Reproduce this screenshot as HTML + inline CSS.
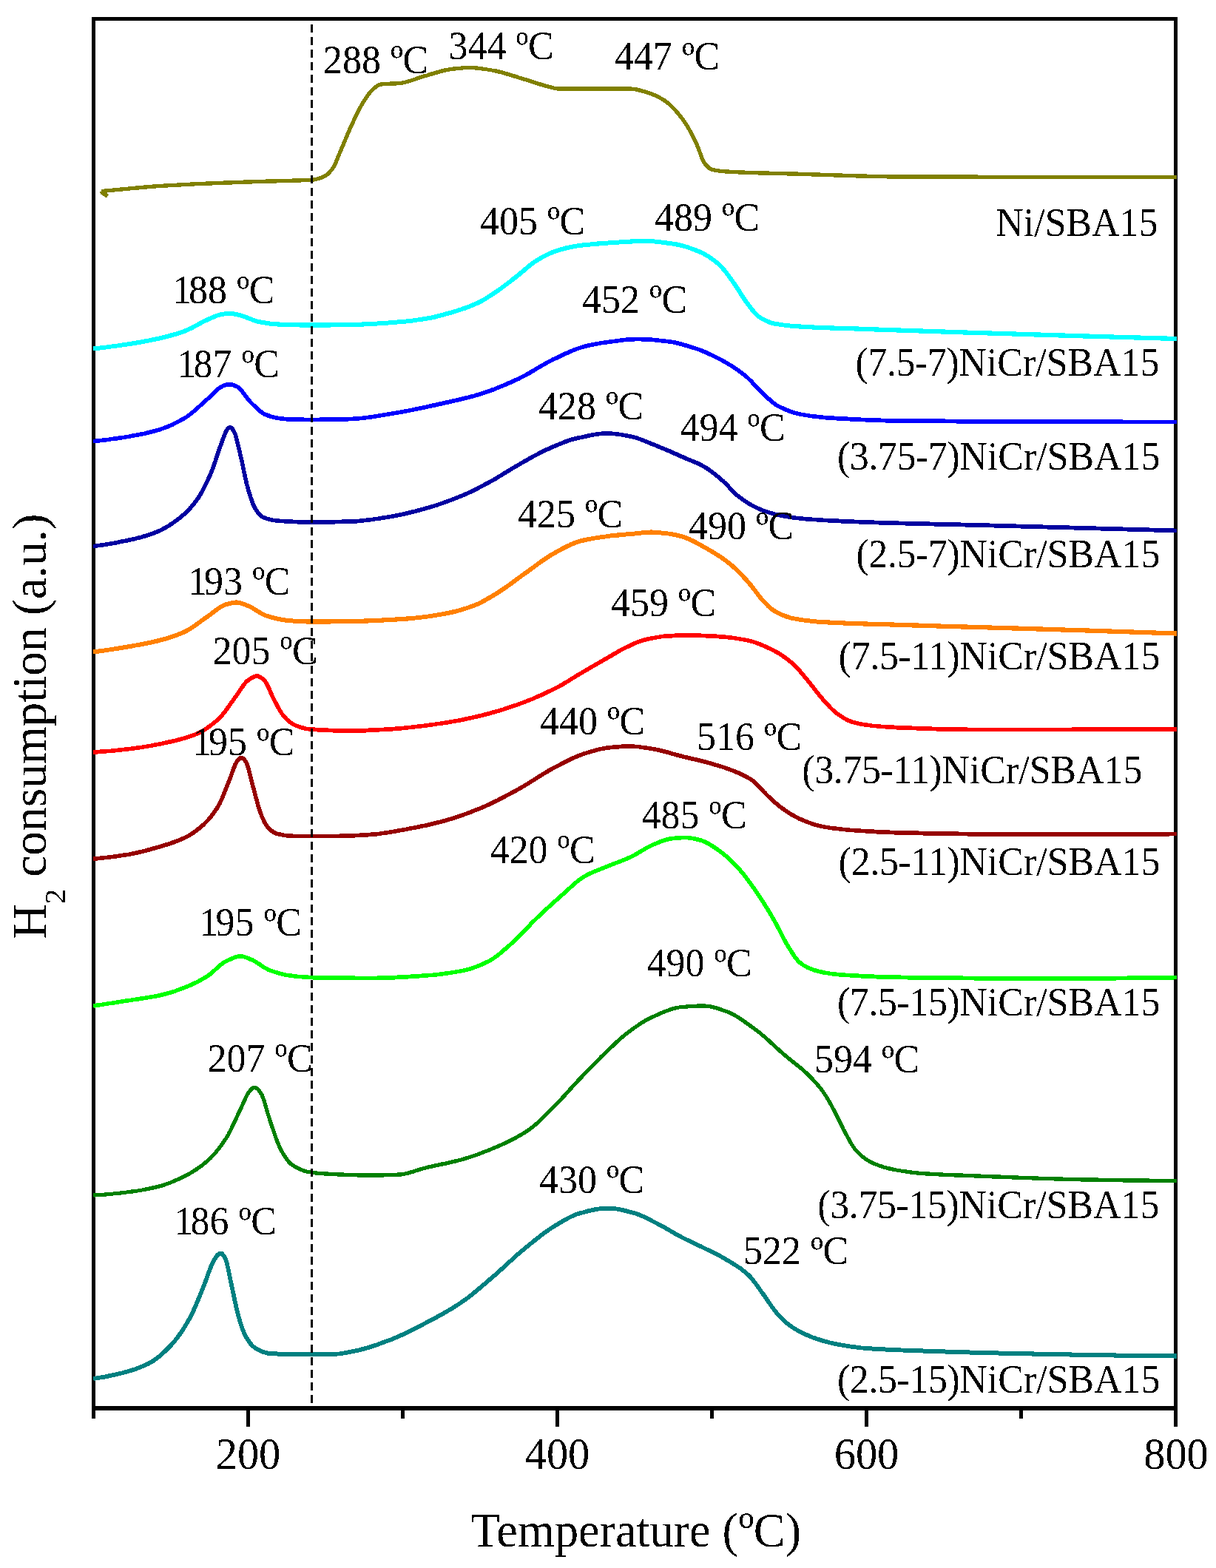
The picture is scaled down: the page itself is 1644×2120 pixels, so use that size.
<!DOCTYPE html>
<html lang="en"><head><meta charset="utf-8"><title>H2-TPR profiles</title>
<style>
html,body{margin:0;padding:0;background:#fff;}
body{width:1644px;height:2120px;overflow:hidden;}
svg{display:block;}
text{font-family:"Liberation Serif","Times New Roman",serif;fill:#000;}
.pk,.sm{font-size:54.4px;}
.tk{font-size:61.5px;text-anchor:middle;}
.ax{font-size:65.3px;text-anchor:middle;}
.ay{font-size:65.5px;text-anchor:middle;letter-spacing:-0.1px;}
.sm{text-anchor:end;}
.cv{fill:none;stroke-width:6;stroke-linejoin:round;stroke-linecap:butt;}
.bw{filter:url(#bw);}
</style></head><body>
<svg width="1644" height="2120" viewBox="0 0 1644 2120">
<defs><filter id="bw" x="-5%" y="-5%" width="110%" height="110%" color-interpolation-filters="sRGB"><feComponentTransfer><feFuncA type="discrete" tableValues="0 1"/></feComponentTransfer></filter></defs>
<rect x="0" y="0" width="1644" height="2120" fill="#fff"/>
<rect x="126.5" y="25.5" width="1463.0" height="1878.3" fill="none" stroke="#000" stroke-width="5.5" shape-rendering="crispEdges"/>
<path d="M126.5,1903.8 v14.2 M335.5,1903.8 v25.2 M544.5,1903.8 v14.2 M753.5,1903.8 v25.2 M962.5,1903.8 v14.2 M1171.5,1903.8 v25.2 M1380.5,1903.8 v14.2 M1589.5,1903.8 v25.2" stroke="#000" stroke-width="5" fill="none" shape-rendering="crispEdges"/>
<g class="bw">
<text class="tk" transform="translate(335.5,1985.5) scale(0.951,1)">200</text>
<text class="tk" transform="translate(753.5,1985.5) scale(0.951,1)">400</text>
<text class="tk" transform="translate(1171.5,1985.5) scale(0.951,1)">600</text>
<text class="tk" transform="translate(1590.0,1985.5) scale(0.951,1)">800</text>
</g>
<g class="cv bw">
<path stroke="#808000" stroke-width="5.3" d="M137.0,258.6 L140.0,258.3 L143.0,258.0 L146.0,257.7 L149.0,257.4 L152.0,257.1 L155.0,256.9 L158.0,256.6 L161.0,256.3 L164.0,256.0 L167.0,255.7 L170.0,255.5 L173.0,255.2 L176.0,254.9 L179.0,254.6 L182.0,254.3 L185.0,254.0 L188.0,253.8 L191.0,253.5 L194.0,253.2 L197.0,253.0 L200.0,252.7 L203.0,252.5 L206.0,252.2 L209.0,252.0 L212.0,251.7 L215.0,251.5 L218.0,251.3 L221.0,251.1 L224.0,251.0 L227.0,250.8 L230.0,250.6 L233.0,250.4 L236.0,250.3 L239.0,250.1 L242.0,249.9 L245.0,249.8 L248.0,249.6 L251.0,249.5 L254.0,249.3 L257.0,249.2 L260.0,249.0 L263.0,248.9 L266.0,248.7 L269.0,248.6 L272.0,248.5 L275.0,248.3 L278.0,248.2 L281.0,248.1 L284.0,248.0 L287.0,247.8 L290.0,247.7 L293.0,247.6 L296.0,247.5 L299.0,247.3 L302.0,247.2 L305.0,247.1 L308.0,247.0 L311.0,246.9 L314.0,246.8 L317.0,246.6 L320.0,246.5 L323.0,246.4 L326.0,246.3 L329.0,246.2 L332.0,246.1 L335.0,246.0 L338.0,245.9 L341.0,245.8 L344.0,245.7 L347.0,245.6 L350.0,245.5 L353.0,245.4 L356.0,245.3 L359.0,245.2 L362.0,245.1 L365.0,245.0 L368.0,245.0 L371.0,244.9 L374.0,244.8 L377.0,244.7 L380.0,244.6 L383.0,244.5 L386.0,244.4 L389.0,244.3 L392.0,244.3 L395.0,244.2 L398.0,244.1 L401.0,244.0 L404.0,243.9 L407.0,243.8 L410.0,243.7 L413.0,243.6 L416.0,243.5 L419.0,243.4 L422.0,243.2 L425.0,242.8 L428.0,242.1 L431.0,241.3 L434.0,240.4 L437.0,239.1 L440.0,237.5 L443.0,235.3 L446.0,232.4 L449.0,228.8 L452.0,224.1 L455.0,217.4 L458.0,209.8 L461.0,202.7 L464.0,195.6 L467.0,188.4 L470.0,181.3 L473.0,174.4 L476.0,167.8 L479.0,161.4 L482.0,155.0 L485.0,148.9 L488.0,143.4 L491.0,138.4 L494.0,133.7 L497.0,129.2 L500.0,125.2 L503.0,121.8 L506.0,119.2 L509.0,116.8 L512.0,115.0 L515.0,114.0 L518.0,113.7 L521.0,113.5 L524.0,113.3 L527.0,113.2 L530.0,113.1 L533.0,113.0 L536.0,112.8 L539.0,112.6 L542.0,112.3 L545.0,111.8 L548.0,111.1 L551.0,110.3 L554.0,109.4 L557.0,108.4 L560.0,107.4 L563.0,106.4 L566.0,105.3 L569.0,104.3 L572.0,103.4 L575.0,102.5 L578.0,101.7 L581.0,100.8 L584.0,99.9 L587.0,99.0 L590.0,98.1 L593.0,97.2 L596.0,96.4 L599.0,95.6 L602.0,94.9 L605.0,94.3 L608.0,93.8 L611.0,93.4 L614.0,93.0 L617.0,92.7 L620.0,92.4 L623.0,92.1 L626.0,91.8 L629.0,91.7 L632.0,91.5 L635.0,91.5 L638.0,91.6 L641.0,91.7 L644.0,92.0 L647.0,92.3 L650.0,92.7 L653.0,93.1 L656.0,93.5 L659.0,94.0 L662.0,94.5 L665.0,95.0 L668.0,95.5 L671.0,96.1 L674.0,96.8 L677.0,97.5 L680.0,98.3 L683.0,99.2 L686.0,100.1 L689.0,101.0 L692.0,101.9 L695.0,102.9 L698.0,103.8 L701.0,104.8 L704.0,105.7 L707.0,106.6 L710.0,107.5 L713.0,108.4 L716.0,109.3 L719.0,110.3 L722.0,111.2 L725.0,112.2 L728.0,113.2 L731.0,114.1 L734.0,115.0 L737.0,115.9 L740.0,116.7 L743.0,117.5 L746.0,118.2 L749.0,119.0 L752.0,119.7 L755.0,120.0 L758.0,120.0 L761.0,120.0 L764.0,120.0 L767.0,120.0 L770.0,120.0 L773.0,120.0 L776.0,120.0 L779.0,120.0 L782.0,120.0 L785.0,120.0 L788.0,120.0 L791.0,120.0 L794.0,120.0 L797.0,120.0 L800.0,120.0 L803.0,120.0 L806.0,120.0 L809.0,120.0 L812.0,120.0 L815.0,120.0 L818.0,120.0 L821.0,120.0 L824.0,120.0 L827.0,120.0 L830.0,120.0 L833.0,120.0 L836.0,120.0 L839.0,120.0 L842.0,120.0 L845.0,120.0 L848.0,120.0 L851.0,120.0 L854.0,120.1 L857.0,120.4 L860.0,120.9 L863.0,121.6 L866.0,122.3 L869.0,123.2 L872.0,124.0 L875.0,124.9 L878.0,125.9 L881.0,127.0 L884.0,128.2 L887.0,129.6 L890.0,131.1 L893.0,132.7 L896.0,134.4 L899.0,136.3 L902.0,138.5 L905.0,141.1 L908.0,143.9 L911.0,147.0 L914.0,150.3 L917.0,153.8 L920.0,157.5 L923.0,161.3 L926.0,165.6 L929.0,170.3 L932.0,175.5 L935.0,181.0 L938.0,186.8 L941.0,192.9 L944.0,199.9 L947.0,208.5 L950.0,216.4 L953.0,221.3 L956.0,224.8 L959.0,227.5 L962.0,229.0 L965.0,229.8 L968.0,230.4 L971.0,230.9 L974.0,231.3 L977.0,231.6 L980.0,231.9 L983.0,232.1 L986.0,232.2 L989.0,232.4 L992.0,232.6 L995.0,232.7 L998.0,232.9 L1001.0,233.0 L1004.0,233.1 L1007.0,233.2 L1010.0,233.3 L1013.0,233.5 L1016.0,233.6 L1019.0,233.6 L1022.0,233.7 L1025.0,233.8 L1028.0,233.9 L1031.0,234.0 L1034.0,234.1 L1037.0,234.1 L1040.0,234.2 L1043.0,234.3 L1046.0,234.3 L1049.0,234.4 L1052.0,234.5 L1055.0,234.5 L1058.0,234.6 L1061.0,234.7 L1064.0,234.8 L1067.0,234.9 L1070.0,234.9 L1073.0,235.0 L1076.0,235.1 L1079.0,235.2 L1082.0,235.3 L1085.0,235.4 L1088.0,235.5 L1091.0,235.6 L1094.0,235.7 L1097.0,235.8 L1100.0,235.9 L1103.0,236.0 L1106.0,236.1 L1109.0,236.2 L1112.0,236.3 L1115.0,236.4 L1118.0,236.5 L1121.0,236.6 L1124.0,236.7 L1127.0,236.8 L1130.0,236.9 L1133.0,237.0 L1136.0,237.1 L1139.0,237.2 L1142.0,237.3 L1145.0,237.4 L1148.0,237.5 L1151.0,237.6 L1154.0,237.7 L1157.0,237.8 L1160.0,237.9 L1163.0,238.0 L1166.0,238.1 L1169.0,238.2 L1172.0,238.2 L1175.0,238.3 L1178.0,238.4 L1181.0,238.4 L1184.0,238.5 L1187.0,238.6 L1190.0,238.6 L1193.0,238.7 L1196.0,238.7 L1199.0,238.8 L1202.0,238.8 L1205.0,238.9 L1208.0,238.9 L1211.0,238.9 L1214.0,239.0 L1217.0,239.0 L1220.0,239.0 L1223.0,239.0 L1226.0,239.0 L1229.0,239.0 L1232.0,239.0 L1235.0,239.0 L1238.0,239.0 L1241.0,239.1 L1244.0,239.1 L1247.0,239.1 L1250.0,239.1 L1253.0,239.1 L1256.0,239.1 L1259.0,239.1 L1262.0,239.1 L1265.0,239.1 L1268.0,239.1 L1271.0,239.1 L1274.0,239.1 L1277.0,239.1 L1280.0,239.2 L1283.0,239.2 L1286.0,239.2 L1289.0,239.2 L1292.0,239.2 L1295.0,239.2 L1298.0,239.2 L1301.0,239.2 L1304.0,239.2 L1307.0,239.2 L1310.0,239.2 L1313.0,239.2 L1316.0,239.2 L1319.0,239.2 L1322.0,239.2 L1325.0,239.3 L1328.0,239.3 L1331.0,239.3 L1334.0,239.3 L1337.0,239.3 L1340.0,239.3 L1343.0,239.3 L1346.0,239.3 L1349.0,239.3 L1352.0,239.3 L1355.0,239.3 L1358.0,239.3 L1361.0,239.3 L1364.0,239.3 L1367.0,239.3 L1370.0,239.3 L1373.0,239.3 L1376.0,239.3 L1379.0,239.3 L1382.0,239.4 L1385.0,239.4 L1388.0,239.4 L1391.0,239.4 L1394.0,239.4 L1397.0,239.4 L1400.0,239.4 L1403.0,239.4 L1406.0,239.4 L1409.0,239.4 L1412.0,239.4 L1415.0,239.4 L1418.0,239.4 L1421.0,239.4 L1424.0,239.4 L1427.0,239.4 L1430.0,239.4 L1433.0,239.4 L1436.0,239.4 L1439.0,239.4 L1442.0,239.4 L1445.0,239.4 L1448.0,239.4 L1451.0,239.4 L1454.0,239.4 L1457.0,239.4 L1460.0,239.4 L1463.0,239.4 L1466.0,239.4 L1469.0,239.5 L1472.0,239.5 L1475.0,239.5 L1478.0,239.5 L1481.0,239.5 L1484.0,239.5 L1487.0,239.5 L1490.0,239.5 L1493.0,239.5 L1496.0,239.5 L1499.0,239.5 L1502.0,239.5 L1505.0,239.5 L1508.0,239.5 L1511.0,239.5 L1514.0,239.5 L1517.0,239.5 L1520.0,239.5 L1523.0,239.5 L1526.0,239.5 L1529.0,239.5 L1532.0,239.5 L1535.0,239.5 L1538.0,239.5 L1541.0,239.5 L1544.0,239.5 L1547.0,239.5 L1550.0,239.5 L1553.0,239.5 L1556.0,239.5 L1559.0,239.5 L1562.0,239.5 L1565.0,239.5 L1568.0,239.5 L1571.0,239.5 L1574.0,239.5 L1577.0,239.5 L1580.0,239.5 L1583.0,239.5 L1586.0,239.5 L1589.0,239.5 L1591.0,239.5"/>
<path stroke="#00FFFF" stroke-width="6" d="M126.0,471.5 L129.0,471.2 L132.0,470.9 L135.0,470.5 L138.0,470.2 L141.0,469.8 L144.0,469.4 L147.0,469.0 L150.0,468.6 L153.0,468.2 L156.0,467.8 L159.0,467.4 L162.0,467.0 L165.0,466.5 L168.0,466.1 L171.0,465.6 L174.0,465.2 L177.0,464.7 L180.0,464.2 L183.0,463.7 L186.0,463.2 L189.0,462.7 L192.0,462.2 L195.0,461.6 L198.0,461.0 L201.0,460.5 L204.0,459.9 L207.0,459.2 L210.0,458.6 L213.0,458.0 L216.0,457.3 L219.0,456.6 L222.0,455.9 L225.0,455.1 L228.0,454.3 L231.0,453.5 L234.0,452.7 L237.0,451.8 L240.0,450.9 L243.0,449.9 L246.0,448.9 L249.0,447.9 L252.0,446.7 L255.0,445.4 L258.0,444.0 L261.0,442.4 L264.0,440.8 L267.0,439.1 L270.0,437.5 L273.0,435.9 L276.0,434.3 L279.0,432.9 L282.0,431.6 L285.0,430.3 L288.0,428.9 L291.0,427.6 L294.0,426.5 L297.0,425.6 L300.0,425.0 L303.0,424.6 L306.0,424.3 L309.0,424.1 L312.0,424.0 L315.0,424.2 L318.0,424.7 L321.0,425.4 L324.0,426.2 L327.0,427.0 L330.0,428.0 L333.0,429.1 L336.0,430.3 L339.0,431.5 L342.0,432.6 L345.0,433.7 L348.0,434.5 L351.0,435.2 L354.0,435.8 L357.0,436.3 L360.0,436.8 L363.0,437.3 L366.0,437.7 L369.0,438.1 L372.0,438.3 L375.0,438.5 L378.0,438.6 L381.0,438.7 L384.0,438.8 L387.0,438.9 L390.0,439.0 L393.0,439.1 L396.0,439.2 L399.0,439.3 L402.0,439.3 L405.0,439.4 L408.0,439.4 L411.0,439.5 L414.0,439.5 L417.0,439.5 L420.0,439.5 L423.0,439.5 L426.0,439.5 L429.0,439.5 L432.0,439.5 L435.0,439.5 L438.0,439.4 L441.0,439.4 L444.0,439.4 L447.0,439.4 L450.0,439.3 L453.0,439.3 L456.0,439.3 L459.0,439.2 L462.0,439.2 L465.0,439.1 L468.0,439.1 L471.0,439.1 L474.0,439.0 L477.0,439.0 L480.0,438.9 L483.0,438.8 L486.0,438.7 L489.0,438.6 L492.0,438.5 L495.0,438.3 L498.0,438.2 L501.0,438.0 L504.0,437.9 L507.0,437.7 L510.0,437.5 L513.0,437.3 L516.0,437.1 L519.0,436.9 L522.0,436.7 L525.0,436.5 L528.0,436.3 L531.0,436.1 L534.0,435.8 L537.0,435.6 L540.0,435.3 L543.0,435.0 L546.0,434.7 L549.0,434.4 L552.0,434.1 L555.0,433.7 L558.0,433.4 L561.0,433.0 L564.0,432.6 L567.0,432.2 L570.0,431.8 L573.0,431.3 L576.0,430.8 L579.0,430.3 L582.0,429.8 L585.0,429.1 L588.0,428.5 L591.0,427.7 L594.0,427.0 L597.0,426.2 L600.0,425.4 L603.0,424.5 L606.0,423.7 L609.0,422.8 L612.0,421.9 L615.0,421.0 L618.0,420.1 L621.0,419.1 L624.0,418.2 L627.0,417.2 L630.0,416.1 L633.0,415.0 L636.0,413.8 L639.0,412.6 L642.0,411.3 L645.0,410.0 L648.0,408.5 L651.0,407.0 L654.0,405.3 L657.0,403.5 L660.0,401.6 L663.0,399.6 L666.0,397.7 L669.0,395.7 L672.0,393.7 L675.0,391.6 L678.0,389.4 L681.0,387.2 L684.0,384.9 L687.0,382.6 L690.0,380.3 L693.0,378.0 L696.0,375.6 L699.0,373.3 L702.0,370.9 L705.0,368.4 L708.0,365.9 L711.0,363.3 L714.0,360.7 L717.0,358.3 L720.0,355.9 L723.0,353.8 L726.0,351.9 L729.0,350.1 L732.0,348.4 L735.0,346.7 L738.0,345.1 L741.0,343.7 L744.0,342.3 L747.0,341.1 L750.0,340.0 L753.0,339.0 L756.0,338.1 L759.0,337.2 L762.0,336.3 L765.0,335.5 L768.0,334.8 L771.0,334.1 L774.0,333.5 L777.0,333.0 L780.0,332.5 L783.0,332.1 L786.0,331.7 L789.0,331.3 L792.0,331.0 L795.0,330.7 L798.0,330.4 L801.0,330.1 L804.0,329.8 L807.0,329.6 L810.0,329.4 L813.0,329.1 L816.0,328.9 L819.0,328.7 L822.0,328.5 L825.0,328.3 L828.0,328.1 L831.0,327.9 L834.0,327.7 L837.0,327.5 L840.0,327.3 L843.0,327.1 L846.0,326.9 L849.0,326.7 L852.0,326.6 L855.0,326.4 L858.0,326.3 L861.0,326.2 L864.0,326.1 L867.0,326.0 L870.0,326.0 L873.0,326.0 L876.0,326.1 L879.0,326.2 L882.0,326.3 L885.0,326.6 L888.0,326.8 L891.0,327.1 L894.0,327.5 L897.0,327.8 L900.0,328.2 L903.0,328.7 L906.0,329.1 L909.0,329.5 L912.0,330.0 L915.0,330.5 L918.0,331.1 L921.0,331.8 L924.0,332.6 L927.0,333.5 L930.0,334.4 L933.0,335.5 L936.0,336.5 L939.0,337.7 L942.0,338.9 L945.0,340.1 L948.0,341.4 L951.0,342.9 L954.0,344.5 L957.0,346.3 L960.0,348.2 L963.0,350.3 L966.0,352.6 L969.0,355.0 L972.0,357.5 L975.0,360.4 L978.0,363.8 L981.0,367.5 L984.0,371.5 L987.0,375.6 L990.0,379.7 L993.0,383.9 L996.0,388.3 L999.0,393.0 L1002.0,397.8 L1005.0,402.5 L1008.0,407.0 L1011.0,411.2 L1014.0,415.0 L1017.0,418.9 L1020.0,422.5 L1023.0,425.7 L1026.0,428.3 L1029.0,430.2 L1032.0,431.9 L1035.0,433.4 L1038.0,434.8 L1041.0,435.9 L1044.0,436.8 L1047.0,437.5 L1050.0,438.0 L1053.0,438.5 L1056.0,439.0 L1059.0,439.4 L1062.0,439.8 L1065.0,440.1 L1068.0,440.4 L1071.0,440.7 L1074.0,440.9 L1077.0,441.2 L1080.0,441.4 L1083.0,441.6 L1086.0,441.7 L1089.0,441.9 L1092.0,442.1 L1095.0,442.2 L1098.0,442.4 L1101.0,442.5 L1104.0,442.7 L1107.0,442.8 L1110.0,442.9 L1113.0,443.0 L1116.0,443.2 L1119.0,443.3 L1122.0,443.4 L1125.0,443.5 L1128.0,443.6 L1131.0,443.7 L1134.0,443.8 L1137.0,443.9 L1140.0,444.0 L1143.0,444.1 L1146.0,444.2 L1149.0,444.2 L1152.0,444.3 L1155.0,444.4 L1158.0,444.5 L1161.0,444.6 L1164.0,444.7 L1167.0,444.8 L1170.0,444.9 L1173.0,445.0 L1176.0,445.1 L1179.0,445.3 L1182.0,445.4 L1185.0,445.5 L1188.0,445.6 L1191.0,445.7 L1194.0,445.8 L1197.0,445.9 L1200.0,446.0 L1203.0,446.1 L1206.0,446.2 L1209.0,446.3 L1212.0,446.4 L1215.0,446.5 L1218.0,446.6 L1221.0,446.7 L1224.0,446.8 L1227.0,446.9 L1230.0,447.0 L1233.0,447.1 L1236.0,447.2 L1239.0,447.3 L1242.0,447.4 L1245.0,447.5 L1248.0,447.6 L1251.0,447.7 L1254.0,447.8 L1257.0,447.9 L1260.0,448.0 L1263.0,448.1 L1266.0,448.2 L1269.0,448.3 L1272.0,448.4 L1275.0,448.5 L1278.0,448.6 L1281.0,448.7 L1284.0,448.8 L1287.0,448.9 L1290.0,449.0 L1293.0,449.1 L1296.0,449.2 L1299.0,449.3 L1302.0,449.4 L1305.0,449.5 L1308.0,449.6 L1311.0,449.7 L1314.0,449.7 L1317.0,449.8 L1320.0,449.9 L1323.0,450.0 L1326.0,450.1 L1329.0,450.2 L1332.0,450.3 L1335.0,450.4 L1338.0,450.5 L1341.0,450.6 L1344.0,450.7 L1347.0,450.8 L1350.0,450.9 L1353.0,451.0 L1356.0,451.1 L1359.0,451.2 L1362.0,451.3 L1365.0,451.3 L1368.0,451.4 L1371.0,451.5 L1374.0,451.6 L1377.0,451.7 L1380.0,451.8 L1383.0,451.9 L1386.0,452.0 L1389.0,452.1 L1392.0,452.2 L1395.0,452.3 L1398.0,452.4 L1401.0,452.5 L1404.0,452.6 L1407.0,452.6 L1410.0,452.7 L1413.0,452.8 L1416.0,452.9 L1419.0,453.0 L1422.0,453.1 L1425.0,453.2 L1428.0,453.3 L1431.0,453.4 L1434.0,453.5 L1437.0,453.6 L1440.0,453.6 L1443.0,453.7 L1446.0,453.8 L1449.0,453.9 L1452.0,454.0 L1455.0,454.1 L1458.0,454.2 L1461.0,454.3 L1464.0,454.4 L1467.0,454.5 L1470.0,454.5 L1473.0,454.6 L1476.0,454.7 L1479.0,454.8 L1482.0,454.9 L1485.0,455.0 L1488.0,455.1 L1491.0,455.2 L1494.0,455.2 L1497.0,455.3 L1500.0,455.4 L1503.0,455.5 L1506.0,455.6 L1509.0,455.7 L1512.0,455.8 L1515.0,455.9 L1518.0,455.9 L1521.0,456.0 L1524.0,456.1 L1527.0,456.2 L1530.0,456.3 L1533.0,456.4 L1536.0,456.5 L1539.0,456.5 L1542.0,456.6 L1545.0,456.7 L1548.0,456.8 L1551.0,456.9 L1554.0,457.0 L1557.0,457.1 L1560.0,457.1 L1563.0,457.2 L1566.0,457.3 L1569.0,457.4 L1572.0,457.5 L1575.0,457.6 L1578.0,457.6 L1581.0,457.7 L1584.0,457.8 L1587.0,457.9 L1590.0,458.0 L1591.0,458.0"/>
<path stroke="#0000FF" stroke-width="5.6" d="M126.0,596.5 L129.0,596.2 L132.0,596.0 L135.0,595.7 L138.0,595.3 L141.0,595.0 L144.0,594.6 L147.0,594.2 L150.0,593.8 L153.0,593.4 L156.0,593.0 L159.0,592.6 L162.0,592.1 L165.0,591.6 L168.0,591.2 L171.0,590.7 L174.0,590.2 L177.0,589.7 L180.0,589.1 L183.0,588.6 L186.0,588.0 L189.0,587.4 L192.0,586.8 L195.0,586.2 L198.0,585.5 L201.0,584.8 L204.0,584.1 L207.0,583.3 L210.0,582.5 L213.0,581.6 L216.0,580.7 L219.0,579.7 L222.0,578.6 L225.0,577.5 L228.0,576.3 L231.0,575.0 L234.0,573.6 L237.0,572.1 L240.0,570.6 L243.0,569.0 L246.0,567.3 L249.0,565.6 L252.0,563.8 L255.0,561.7 L258.0,559.4 L261.0,556.9 L264.0,554.4 L267.0,551.7 L270.0,549.0 L273.0,546.2 L276.0,543.5 L279.0,540.9 L282.0,538.2 L285.0,535.3 L288.0,532.2 L291.0,529.2 L294.0,526.4 L297.0,524.2 L300.0,522.5 L303.0,521.2 L306.0,520.1 L309.0,519.5 L312.0,519.7 L315.0,520.4 L318.0,521.6 L321.0,523.0 L324.0,525.4 L327.0,528.7 L330.0,532.5 L333.0,536.6 L336.0,540.6 L339.0,544.0 L342.0,546.9 L345.0,549.8 L348.0,552.6 L351.0,555.3 L354.0,557.7 L357.0,559.6 L360.0,561.0 L363.0,562.0 L366.0,563.0 L369.0,563.8 L372.0,564.6 L375.0,565.2 L378.0,565.8 L381.0,566.2 L384.0,566.4 L387.0,566.6 L390.0,566.7 L393.0,566.9 L396.0,567.0 L399.0,567.1 L402.0,567.2 L405.0,567.3 L408.0,567.4 L411.0,567.4 L414.0,567.5 L417.0,567.5 L420.0,567.5 L423.0,567.5 L426.0,567.5 L429.0,567.5 L432.0,567.4 L435.0,567.4 L438.0,567.4 L441.0,567.3 L444.0,567.3 L447.0,567.2 L450.0,567.2 L453.0,567.1 L456.0,567.0 L459.0,567.0 L462.0,566.9 L465.0,566.8 L468.0,566.7 L471.0,566.6 L474.0,566.5 L477.0,566.4 L480.0,566.3 L483.0,566.0 L486.0,565.8 L489.0,565.5 L492.0,565.1 L495.0,564.7 L498.0,564.3 L501.0,563.9 L504.0,563.4 L507.0,562.9 L510.0,562.4 L513.0,561.9 L516.0,561.5 L519.0,561.0 L522.0,560.5 L525.0,560.0 L528.0,559.5 L531.0,559.0 L534.0,558.5 L537.0,558.0 L540.0,557.5 L543.0,556.9 L546.0,556.4 L549.0,555.8 L552.0,555.2 L555.0,554.7 L558.0,554.1 L561.0,553.4 L564.0,552.8 L567.0,552.2 L570.0,551.6 L573.0,550.9 L576.0,550.3 L579.0,549.6 L582.0,549.0 L585.0,548.3 L588.0,547.7 L591.0,547.0 L594.0,546.3 L597.0,545.7 L600.0,545.0 L603.0,544.3 L606.0,543.7 L609.0,543.0 L612.0,542.3 L615.0,541.6 L618.0,540.9 L621.0,540.2 L624.0,539.5 L627.0,538.8 L630.0,538.0 L633.0,537.3 L636.0,536.5 L639.0,535.7 L642.0,534.9 L645.0,534.0 L648.0,533.1 L651.0,532.2 L654.0,531.2 L657.0,530.2 L660.0,529.2 L663.0,528.1 L666.0,527.0 L669.0,525.9 L672.0,524.7 L675.0,523.5 L678.0,522.2 L681.0,521.0 L684.0,519.7 L687.0,518.4 L690.0,517.1 L693.0,515.7 L696.0,514.3 L699.0,513.0 L702.0,511.6 L705.0,510.1 L708.0,508.5 L711.0,506.9 L714.0,505.2 L717.0,503.5 L720.0,501.7 L723.0,500.0 L726.0,498.2 L729.0,496.4 L732.0,494.7 L735.0,492.9 L738.0,491.2 L741.0,489.6 L744.0,488.0 L747.0,486.4 L750.0,485.0 L753.0,483.6 L756.0,482.2 L759.0,480.7 L762.0,479.3 L765.0,477.9 L768.0,476.6 L771.0,475.2 L774.0,474.0 L777.0,472.8 L780.0,471.6 L783.0,470.6 L786.0,469.6 L789.0,468.8 L792.0,468.0 L795.0,467.3 L798.0,466.6 L801.0,466.0 L804.0,465.4 L807.0,464.8 L810.0,464.3 L813.0,463.8 L816.0,463.3 L819.0,462.9 L822.0,462.5 L825.0,462.1 L828.0,461.7 L831.0,461.3 L834.0,460.9 L837.0,460.5 L840.0,460.1 L843.0,459.7 L846.0,459.4 L849.0,459.1 L852.0,458.9 L855.0,458.7 L858.0,458.6 L861.0,458.5 L864.0,458.5 L867.0,458.6 L870.0,458.7 L873.0,458.8 L876.0,459.0 L879.0,459.2 L882.0,459.4 L885.0,459.7 L888.0,460.0 L891.0,460.3 L894.0,460.6 L897.0,460.9 L900.0,461.3 L903.0,461.6 L906.0,462.0 L909.0,462.6 L912.0,463.1 L915.0,463.8 L918.0,464.5 L921.0,465.3 L924.0,466.1 L927.0,467.0 L930.0,467.9 L933.0,468.8 L936.0,469.7 L939.0,470.6 L942.0,471.7 L945.0,472.7 L948.0,473.9 L951.0,475.1 L954.0,476.4 L957.0,477.7 L960.0,479.1 L963.0,480.5 L966.0,482.0 L969.0,483.5 L972.0,485.0 L975.0,486.6 L978.0,488.2 L981.0,489.9 L984.0,491.6 L987.0,493.5 L990.0,495.4 L993.0,497.3 L996.0,499.4 L999.0,501.5 L1002.0,503.7 L1005.0,505.9 L1008.0,508.3 L1011.0,511.0 L1014.0,513.9 L1017.0,517.0 L1020.0,520.2 L1023.0,523.4 L1026.0,526.6 L1029.0,529.7 L1032.0,532.5 L1035.0,535.3 L1038.0,538.1 L1041.0,540.8 L1044.0,543.4 L1047.0,545.8 L1050.0,547.9 L1053.0,549.5 L1056.0,551.0 L1059.0,552.4 L1062.0,553.7 L1065.0,555.0 L1068.0,556.1 L1071.0,557.1 L1074.0,558.1 L1077.0,558.9 L1080.0,559.6 L1083.0,560.2 L1086.0,560.7 L1089.0,561.2 L1092.0,561.7 L1095.0,562.2 L1098.0,562.6 L1101.0,563.0 L1104.0,563.4 L1107.0,563.7 L1110.0,564.0 L1113.0,564.3 L1116.0,564.6 L1119.0,564.8 L1122.0,565.0 L1125.0,565.2 L1128.0,565.4 L1131.0,565.6 L1134.0,565.8 L1137.0,565.9 L1140.0,566.1 L1143.0,566.3 L1146.0,566.4 L1149.0,566.6 L1152.0,566.8 L1155.0,566.9 L1158.0,567.1 L1161.0,567.2 L1164.0,567.4 L1167.0,567.5 L1170.0,567.6 L1173.0,567.7 L1176.0,567.9 L1179.0,568.0 L1182.0,568.1 L1185.0,568.2 L1188.0,568.3 L1191.0,568.4 L1194.0,568.5 L1197.0,568.6 L1200.0,568.6 L1203.0,568.7 L1206.0,568.8 L1209.0,568.8 L1212.0,568.9 L1215.0,568.9 L1218.0,569.0 L1221.0,569.0 L1224.0,569.0 L1227.0,569.0 L1230.0,569.1 L1233.0,569.1 L1236.0,569.1 L1239.0,569.1 L1242.0,569.2 L1245.0,569.2 L1248.0,569.2 L1251.0,569.2 L1254.0,569.3 L1257.0,569.3 L1260.0,569.3 L1263.0,569.3 L1266.0,569.4 L1269.0,569.4 L1272.0,569.4 L1275.0,569.4 L1278.0,569.4 L1281.0,569.5 L1284.0,569.5 L1287.0,569.5 L1290.0,569.5 L1293.0,569.6 L1296.0,569.6 L1299.0,569.6 L1302.0,569.6 L1305.0,569.6 L1308.0,569.6 L1311.0,569.7 L1314.0,569.7 L1317.0,569.7 L1320.0,569.7 L1323.0,569.7 L1326.0,569.8 L1329.0,569.8 L1332.0,569.8 L1335.0,569.8 L1338.0,569.8 L1341.0,569.8 L1344.0,569.9 L1347.0,569.9 L1350.0,569.9 L1353.0,569.9 L1356.0,569.9 L1359.0,569.9 L1362.0,570.0 L1365.0,570.0 L1368.0,570.0 L1371.0,570.0 L1374.0,570.0 L1377.0,570.0 L1380.0,570.0 L1383.0,570.1 L1386.0,570.1 L1389.0,570.1 L1392.0,570.1 L1395.0,570.1 L1398.0,570.1 L1401.0,570.1 L1404.0,570.1 L1407.0,570.2 L1410.0,570.2 L1413.0,570.2 L1416.0,570.2 L1419.0,570.2 L1422.0,570.2 L1425.0,570.2 L1428.0,570.2 L1431.0,570.2 L1434.0,570.3 L1437.0,570.3 L1440.0,570.3 L1443.0,570.3 L1446.0,570.3 L1449.0,570.3 L1452.0,570.3 L1455.0,570.3 L1458.0,570.3 L1461.0,570.3 L1464.0,570.3 L1467.0,570.3 L1470.0,570.4 L1473.0,570.4 L1476.0,570.4 L1479.0,570.4 L1482.0,570.4 L1485.0,570.4 L1488.0,570.4 L1491.0,570.4 L1494.0,570.4 L1497.0,570.4 L1500.0,570.4 L1503.0,570.4 L1506.0,570.4 L1509.0,570.4 L1512.0,570.4 L1515.0,570.4 L1518.0,570.4 L1521.0,570.5 L1524.0,570.5 L1527.0,570.5 L1530.0,570.5 L1533.0,570.5 L1536.0,570.5 L1539.0,570.5 L1542.0,570.5 L1545.0,570.5 L1548.0,570.5 L1551.0,570.5 L1554.0,570.5 L1557.0,570.5 L1560.0,570.5 L1563.0,570.5 L1566.0,570.5 L1569.0,570.5 L1572.0,570.5 L1575.0,570.5 L1578.0,570.5 L1581.0,570.5 L1584.0,570.5 L1587.0,570.5 L1590.0,570.5 L1591.0,570.5"/>
<path stroke="#0000A0" stroke-width="5.6" d="M126.0,738.5 L129.0,738.2 L132.0,737.8 L135.0,737.4 L138.0,737.0 L141.0,736.5 L144.0,736.0 L147.0,735.5 L150.0,735.0 L153.0,734.5 L156.0,733.9 L159.0,733.3 L162.0,732.7 L165.0,732.1 L168.0,731.5 L171.0,730.9 L174.0,730.2 L177.0,729.6 L180.0,728.9 L183.0,728.2 L186.0,727.4 L189.0,726.7 L192.0,725.9 L195.0,725.0 L198.0,724.1 L201.0,723.2 L204.0,722.2 L207.0,721.1 L210.0,720.0 L213.0,718.8 L216.0,717.4 L219.0,715.9 L222.0,714.3 L225.0,712.6 L228.0,710.8 L231.0,708.8 L234.0,706.8 L237.0,704.7 L240.0,702.5 L243.0,700.2 L246.0,697.7 L249.0,695.1 L252.0,692.3 L255.0,689.3 L258.0,686.0 L261.0,682.5 L264.0,678.8 L267.0,674.7 L270.0,670.1 L273.0,664.9 L276.0,659.2 L279.0,653.1 L282.0,646.7 L285.0,640.0 L288.0,632.4 L291.0,623.8 L294.0,614.6 L297.0,605.7 L300.0,597.5 L303.0,589.3 L306.0,582.2 L309.0,578.5 L312.0,577.8 L315.0,581.0 L318.0,587.0 L321.0,598.0 L324.0,610.9 L327.0,623.7 L330.0,638.2 L333.0,652.2 L336.0,663.4 L339.0,673.0 L342.0,681.3 L345.0,687.5 L348.0,692.1 L351.0,695.9 L354.0,698.5 L357.0,699.8 L360.0,700.9 L363.0,701.9 L366.0,702.6 L369.0,703.2 L372.0,703.7 L375.0,704.0 L378.0,704.2 L381.0,704.5 L384.0,704.7 L387.0,704.9 L390.0,705.1 L393.0,705.2 L396.0,705.4 L399.0,705.5 L402.0,705.7 L405.0,705.8 L408.0,705.8 L411.0,705.9 L414.0,706.0 L417.0,706.0 L420.0,706.0 L423.0,706.0 L426.0,706.0 L429.0,706.0 L432.0,705.9 L435.0,705.9 L438.0,705.9 L441.0,705.8 L444.0,705.8 L447.0,705.7 L450.0,705.7 L453.0,705.6 L456.0,705.5 L459.0,705.5 L462.0,705.4 L465.0,705.3 L468.0,705.2 L471.0,705.1 L474.0,705.0 L477.0,704.9 L480.0,704.8 L483.0,704.6 L486.0,704.3 L489.0,704.1 L492.0,703.8 L495.0,703.4 L498.0,703.0 L501.0,702.7 L504.0,702.2 L507.0,701.8 L510.0,701.4 L513.0,700.9 L516.0,700.4 L519.0,700.0 L522.0,699.5 L525.0,699.0 L528.0,698.5 L531.0,698.0 L534.0,697.4 L537.0,696.8 L540.0,696.2 L543.0,695.6 L546.0,694.9 L549.0,694.2 L552.0,693.5 L555.0,692.8 L558.0,692.0 L561.0,691.3 L564.0,690.5 L567.0,689.7 L570.0,688.9 L573.0,688.1 L576.0,687.2 L579.0,686.4 L582.0,685.5 L585.0,684.6 L588.0,683.6 L591.0,682.7 L594.0,681.7 L597.0,680.6 L600.0,679.6 L603.0,678.5 L606.0,677.4 L609.0,676.3 L612.0,675.2 L615.0,674.0 L618.0,672.8 L621.0,671.6 L624.0,670.4 L627.0,669.2 L630.0,667.9 L633.0,666.5 L636.0,665.1 L639.0,663.7 L642.0,662.2 L645.0,660.7 L648.0,659.1 L651.0,657.5 L654.0,656.0 L657.0,654.3 L660.0,652.7 L663.0,651.1 L666.0,649.4 L669.0,647.8 L672.0,646.0 L675.0,644.2 L678.0,642.4 L681.0,640.5 L684.0,638.7 L687.0,636.8 L690.0,634.9 L693.0,633.1 L696.0,631.3 L699.0,629.6 L702.0,627.9 L705.0,626.1 L708.0,624.4 L711.0,622.7 L714.0,621.0 L717.0,619.3 L720.0,617.6 L723.0,616.0 L726.0,614.4 L729.0,612.8 L732.0,611.3 L735.0,609.8 L738.0,608.4 L741.0,607.1 L744.0,605.7 L747.0,604.4 L750.0,603.1 L753.0,601.8 L756.0,600.5 L759.0,599.3 L762.0,598.1 L765.0,597.0 L768.0,595.9 L771.0,594.9 L774.0,594.0 L777.0,593.2 L780.0,592.5 L783.0,591.8 L786.0,591.2 L789.0,590.5 L792.0,589.9 L795.0,589.2 L798.0,588.6 L801.0,588.1 L804.0,587.6 L807.0,587.1 L810.0,586.8 L813.0,586.4 L816.0,586.2 L819.0,586.1 L822.0,586.0 L825.0,586.1 L828.0,586.2 L831.0,586.5 L834.0,586.9 L837.0,587.3 L840.0,587.8 L843.0,588.3 L846.0,588.8 L849.0,589.4 L852.0,590.0 L855.0,590.6 L858.0,591.4 L861.0,592.3 L864.0,593.3 L867.0,594.4 L870.0,595.6 L873.0,596.8 L876.0,598.0 L879.0,599.3 L882.0,600.5 L885.0,601.7 L888.0,602.9 L891.0,604.1 L894.0,605.3 L897.0,606.6 L900.0,607.8 L903.0,609.1 L906.0,610.4 L909.0,611.8 L912.0,613.1 L915.0,614.4 L918.0,615.7 L921.0,617.1 L924.0,618.4 L927.0,619.6 L930.0,620.9 L933.0,622.1 L936.0,623.3 L939.0,624.6 L942.0,625.9 L945.0,627.3 L948.0,628.8 L951.0,630.4 L954.0,632.2 L957.0,634.1 L960.0,636.2 L963.0,638.4 L966.0,640.8 L969.0,643.2 L972.0,645.7 L975.0,648.3 L978.0,650.9 L981.0,653.8 L984.0,656.9 L987.0,660.2 L990.0,663.4 L993.0,666.5 L996.0,669.2 L999.0,671.6 L1002.0,673.8 L1005.0,676.0 L1008.0,678.0 L1011.0,680.0 L1014.0,681.8 L1017.0,683.5 L1020.0,685.0 L1023.0,686.5 L1026.0,687.8 L1029.0,689.1 L1032.0,690.3 L1035.0,691.4 L1038.0,692.4 L1041.0,693.4 L1044.0,694.2 L1047.0,695.0 L1050.0,695.7 L1053.0,696.4 L1056.0,697.0 L1059.0,697.6 L1062.0,698.2 L1065.0,698.7 L1068.0,699.2 L1071.0,699.7 L1074.0,700.1 L1077.0,700.5 L1080.0,700.8 L1083.0,701.1 L1086.0,701.4 L1089.0,701.6 L1092.0,701.9 L1095.0,702.1 L1098.0,702.3 L1101.0,702.5 L1104.0,702.7 L1107.0,702.9 L1110.0,703.1 L1113.0,703.3 L1116.0,703.5 L1119.0,703.7 L1122.0,703.8 L1125.0,704.0 L1128.0,704.2 L1131.0,704.3 L1134.0,704.4 L1137.0,704.6 L1140.0,704.7 L1143.0,704.9 L1146.0,705.0 L1149.0,705.1 L1152.0,705.2 L1155.0,705.4 L1158.0,705.5 L1161.0,705.6 L1164.0,705.7 L1167.0,705.8 L1170.0,705.9 L1173.0,706.0 L1176.0,706.1 L1179.0,706.3 L1182.0,706.4 L1185.0,706.5 L1188.0,706.6 L1191.0,706.7 L1194.0,706.8 L1197.0,706.8 L1200.0,706.9 L1203.0,707.0 L1206.0,707.1 L1209.0,707.2 L1212.0,707.3 L1215.0,707.4 L1218.0,707.5 L1221.0,707.5 L1224.0,707.6 L1227.0,707.7 L1230.0,707.8 L1233.0,707.8 L1236.0,707.9 L1239.0,708.0 L1242.0,708.1 L1245.0,708.1 L1248.0,708.2 L1251.0,708.3 L1254.0,708.4 L1257.0,708.4 L1260.0,708.5 L1263.0,708.6 L1266.0,708.6 L1269.0,708.7 L1272.0,708.8 L1275.0,708.8 L1278.0,708.9 L1281.0,709.0 L1284.0,709.1 L1287.0,709.1 L1290.0,709.2 L1293.0,709.3 L1296.0,709.3 L1299.0,709.4 L1302.0,709.5 L1305.0,709.6 L1308.0,709.6 L1311.0,709.7 L1314.0,709.8 L1317.0,709.9 L1320.0,709.9 L1323.0,710.0 L1326.0,710.1 L1329.0,710.2 L1332.0,710.3 L1335.0,710.4 L1338.0,710.4 L1341.0,710.5 L1344.0,710.6 L1347.0,710.7 L1350.0,710.8 L1353.0,710.8 L1356.0,710.9 L1359.0,711.0 L1362.0,711.1 L1365.0,711.2 L1368.0,711.3 L1371.0,711.3 L1374.0,711.4 L1377.0,711.5 L1380.0,711.6 L1383.0,711.7 L1386.0,711.8 L1389.0,711.8 L1392.0,711.9 L1395.0,712.0 L1398.0,712.1 L1401.0,712.2 L1404.0,712.2 L1407.0,712.3 L1410.0,712.4 L1413.0,712.5 L1416.0,712.6 L1419.0,712.7 L1422.0,712.7 L1425.0,712.8 L1428.0,712.9 L1431.0,713.0 L1434.0,713.1 L1437.0,713.2 L1440.0,713.2 L1443.0,713.3 L1446.0,713.4 L1449.0,713.5 L1452.0,713.6 L1455.0,713.7 L1458.0,713.7 L1461.0,713.8 L1464.0,713.9 L1467.0,714.0 L1470.0,714.1 L1473.0,714.2 L1476.0,714.2 L1479.0,714.3 L1482.0,714.4 L1485.0,714.5 L1488.0,714.6 L1491.0,714.7 L1494.0,714.7 L1497.0,714.8 L1500.0,714.9 L1503.0,715.0 L1506.0,715.1 L1509.0,715.2 L1512.0,715.3 L1515.0,715.3 L1518.0,715.4 L1521.0,715.5 L1524.0,715.6 L1527.0,715.7 L1530.0,715.8 L1533.0,715.8 L1536.0,715.9 L1539.0,716.0 L1542.0,716.1 L1545.0,716.2 L1548.0,716.3 L1551.0,716.4 L1554.0,716.4 L1557.0,716.5 L1560.0,716.6 L1563.0,716.7 L1566.0,716.8 L1569.0,716.9 L1572.0,717.0 L1575.0,717.0 L1578.0,717.1 L1581.0,717.2 L1584.0,717.3 L1587.0,717.4 L1590.0,717.5 L1591.0,717.5"/>
<path stroke="#FF8000" stroke-width="6" d="M126.0,881.5 L129.0,881.1 L132.0,880.7 L135.0,880.3 L138.0,879.9 L141.0,879.5 L144.0,879.0 L147.0,878.6 L150.0,878.1 L153.0,877.6 L156.0,877.2 L159.0,876.7 L162.0,876.2 L165.0,875.7 L168.0,875.2 L171.0,874.7 L174.0,874.2 L177.0,873.7 L180.0,873.1 L183.0,872.6 L186.0,872.1 L189.0,871.5 L192.0,871.0 L195.0,870.4 L198.0,869.8 L201.0,869.2 L204.0,868.6 L207.0,867.9 L210.0,867.2 L213.0,866.5 L216.0,865.7 L219.0,865.0 L222.0,864.1 L225.0,863.3 L228.0,862.3 L231.0,861.4 L234.0,860.4 L237.0,859.3 L240.0,858.2 L243.0,857.0 L246.0,855.8 L249.0,854.5 L252.0,853.0 L255.0,851.4 L258.0,849.6 L261.0,847.6 L264.0,845.5 L267.0,843.3 L270.0,841.1 L273.0,838.9 L276.0,836.8 L279.0,834.7 L282.0,832.6 L285.0,830.4 L288.0,828.1 L291.0,825.7 L294.0,823.5 L297.0,821.4 L300.0,819.6 L303.0,818.2 L306.0,817.2 L309.0,816.3 L312.0,815.6 L315.0,815.0 L318.0,814.6 L321.0,814.5 L324.0,815.0 L327.0,815.9 L330.0,817.0 L333.0,818.2 L336.0,819.4 L339.0,820.8 L342.0,822.5 L345.0,824.4 L348.0,826.3 L351.0,828.1 L354.0,829.9 L357.0,831.4 L360.0,832.5 L363.0,833.4 L366.0,834.3 L369.0,835.1 L372.0,835.9 L375.0,836.6 L378.0,837.3 L381.0,837.8 L384.0,838.3 L387.0,838.7 L390.0,839.0 L393.0,839.2 L396.0,839.5 L399.0,839.7 L402.0,839.9 L405.0,840.1 L408.0,840.2 L411.0,840.3 L414.0,840.4 L417.0,840.5 L420.0,840.5 L423.0,840.5 L426.0,840.5 L429.0,840.5 L432.0,840.5 L435.0,840.5 L438.0,840.4 L441.0,840.4 L444.0,840.4 L447.0,840.4 L450.0,840.3 L453.0,840.3 L456.0,840.3 L459.0,840.2 L462.0,840.2 L465.0,840.1 L468.0,840.1 L471.0,840.1 L474.0,840.0 L477.0,840.0 L480.0,839.9 L483.0,839.8 L486.0,839.8 L489.0,839.7 L492.0,839.6 L495.0,839.5 L498.0,839.4 L501.0,839.3 L504.0,839.2 L507.0,839.0 L510.0,838.9 L513.0,838.8 L516.0,838.6 L519.0,838.4 L522.0,838.3 L525.0,838.1 L528.0,837.9 L531.0,837.8 L534.0,837.6 L537.0,837.4 L540.0,837.2 L543.0,837.0 L546.0,836.8 L549.0,836.6 L552.0,836.4 L555.0,836.1 L558.0,835.8 L561.0,835.6 L564.0,835.2 L567.0,834.9 L570.0,834.6 L573.0,834.2 L576.0,833.8 L579.0,833.4 L582.0,832.9 L585.0,832.5 L588.0,832.0 L591.0,831.5 L594.0,831.0 L597.0,830.5 L600.0,830.0 L603.0,829.4 L606.0,828.8 L609.0,828.2 L612.0,827.5 L615.0,826.8 L618.0,826.0 L621.0,825.2 L624.0,824.3 L627.0,823.4 L630.0,822.5 L633.0,821.5 L636.0,820.4 L639.0,819.4 L642.0,818.2 L645.0,817.0 L648.0,815.6 L651.0,814.1 L654.0,812.5 L657.0,810.9 L660.0,809.1 L663.0,807.4 L666.0,805.6 L669.0,803.7 L672.0,801.9 L675.0,800.0 L678.0,798.1 L681.0,796.1 L684.0,794.0 L687.0,791.9 L690.0,789.7 L693.0,787.5 L696.0,785.3 L699.0,783.0 L702.0,780.8 L705.0,778.6 L708.0,776.4 L711.0,774.3 L714.0,772.2 L717.0,770.0 L720.0,767.8 L723.0,765.6 L726.0,763.4 L729.0,761.2 L732.0,759.0 L735.0,756.9 L738.0,754.9 L741.0,752.9 L744.0,751.0 L747.0,749.2 L750.0,747.5 L753.0,745.9 L756.0,744.2 L759.0,742.6 L762.0,741.0 L765.0,739.5 L768.0,738.0 L771.0,736.6 L774.0,735.3 L777.0,734.1 L780.0,733.0 L783.0,732.0 L786.0,731.2 L789.0,730.5 L792.0,729.9 L795.0,729.2 L798.0,728.6 L801.0,728.1 L804.0,727.6 L807.0,727.1 L810.0,726.6 L813.0,726.2 L816.0,725.8 L819.0,725.4 L822.0,725.0 L825.0,724.6 L828.0,724.3 L831.0,724.0 L834.0,723.6 L837.0,723.4 L840.0,723.1 L843.0,722.8 L846.0,722.5 L849.0,722.3 L852.0,722.0 L855.0,721.7 L858.0,721.5 L861.0,721.2 L864.0,720.9 L867.0,720.6 L870.0,720.3 L873.0,720.0 L876.0,719.8 L879.0,719.6 L882.0,719.6 L885.0,719.7 L888.0,719.9 L891.0,720.1 L894.0,720.4 L897.0,720.7 L900.0,721.0 L903.0,721.4 L906.0,721.8 L909.0,722.4 L912.0,723.0 L915.0,723.7 L918.0,724.4 L921.0,725.2 L924.0,726.1 L927.0,727.1 L930.0,728.3 L933.0,729.6 L936.0,731.0 L939.0,732.5 L942.0,734.1 L945.0,735.7 L948.0,737.4 L951.0,739.1 L954.0,740.8 L957.0,742.5 L960.0,744.2 L963.0,746.0 L966.0,747.8 L969.0,749.7 L972.0,751.6 L975.0,753.6 L978.0,755.7 L981.0,757.9 L984.0,760.1 L987.0,762.5 L990.0,765.0 L993.0,767.7 L996.0,770.5 L999.0,773.5 L1002.0,776.6 L1005.0,779.8 L1008.0,783.1 L1011.0,786.4 L1014.0,789.8 L1017.0,793.6 L1020.0,797.5 L1023.0,801.5 L1026.0,805.5 L1029.0,809.2 L1032.0,812.5 L1035.0,815.6 L1038.0,818.7 L1041.0,821.5 L1044.0,824.0 L1047.0,826.0 L1050.0,827.7 L1053.0,829.2 L1056.0,830.7 L1059.0,832.0 L1062.0,833.1 L1065.0,834.2 L1068.0,835.1 L1071.0,835.8 L1074.0,836.4 L1077.0,836.9 L1080.0,837.5 L1083.0,837.9 L1086.0,838.4 L1089.0,838.8 L1092.0,839.2 L1095.0,839.5 L1098.0,839.9 L1101.0,840.2 L1104.0,840.4 L1107.0,840.7 L1110.0,840.9 L1113.0,841.1 L1116.0,841.2 L1119.0,841.4 L1122.0,841.6 L1125.0,841.7 L1128.0,841.9 L1131.0,842.0 L1134.0,842.2 L1137.0,842.3 L1140.0,842.4 L1143.0,842.6 L1146.0,842.7 L1149.0,842.8 L1152.0,842.9 L1155.0,843.0 L1158.0,843.1 L1161.0,843.2 L1164.0,843.3 L1167.0,843.4 L1170.0,843.5 L1173.0,843.6 L1176.0,843.7 L1179.0,843.7 L1182.0,843.8 L1185.0,843.9 L1188.0,844.0 L1191.0,844.1 L1194.0,844.2 L1197.0,844.2 L1200.0,844.3 L1203.0,844.4 L1206.0,844.5 L1209.0,844.6 L1212.0,844.7 L1215.0,844.8 L1218.0,844.9 L1221.0,845.0 L1224.0,845.1 L1227.0,845.2 L1230.0,845.3 L1233.0,845.4 L1236.0,845.5 L1239.0,845.6 L1242.0,845.6 L1245.0,845.7 L1248.0,845.8 L1251.0,845.9 L1254.0,846.0 L1257.0,846.1 L1260.0,846.2 L1263.0,846.3 L1266.0,846.4 L1269.0,846.5 L1272.0,846.6 L1275.0,846.7 L1278.0,846.8 L1281.0,846.8 L1284.0,846.9 L1287.0,847.0 L1290.0,847.1 L1293.0,847.2 L1296.0,847.3 L1299.0,847.4 L1302.0,847.5 L1305.0,847.6 L1308.0,847.6 L1311.0,847.7 L1314.0,847.8 L1317.0,847.9 L1320.0,848.0 L1323.0,848.1 L1326.0,848.2 L1329.0,848.3 L1332.0,848.3 L1335.0,848.4 L1338.0,848.5 L1341.0,848.6 L1344.0,848.7 L1347.0,848.8 L1350.0,848.9 L1353.0,848.9 L1356.0,849.0 L1359.0,849.1 L1362.0,849.2 L1365.0,849.3 L1368.0,849.4 L1371.0,849.5 L1374.0,849.6 L1377.0,849.6 L1380.0,849.7 L1383.0,849.8 L1386.0,849.9 L1389.0,850.0 L1392.0,850.1 L1395.0,850.2 L1398.0,850.3 L1401.0,850.4 L1404.0,850.4 L1407.0,850.5 L1410.0,850.6 L1413.0,850.7 L1416.0,850.8 L1419.0,850.9 L1422.0,851.0 L1425.0,851.1 L1428.0,851.2 L1431.0,851.3 L1434.0,851.4 L1437.0,851.5 L1440.0,851.6 L1443.0,851.7 L1446.0,851.8 L1449.0,851.8 L1452.0,851.9 L1455.0,852.0 L1458.0,852.1 L1461.0,852.2 L1464.0,852.3 L1467.0,852.4 L1470.0,852.5 L1473.0,852.6 L1476.0,852.7 L1479.0,852.8 L1482.0,852.9 L1485.0,853.0 L1488.0,853.1 L1491.0,853.2 L1494.0,853.3 L1497.0,853.4 L1500.0,853.5 L1503.0,853.6 L1506.0,853.7 L1509.0,853.8 L1512.0,853.9 L1515.0,854.0 L1518.0,854.1 L1521.0,854.2 L1524.0,854.3 L1527.0,854.4 L1530.0,854.5 L1533.0,854.6 L1536.0,854.7 L1539.0,854.8 L1542.0,854.9 L1545.0,855.0 L1548.0,855.1 L1551.0,855.2 L1554.0,855.3 L1557.0,855.4 L1560.0,855.5 L1563.0,855.6 L1566.0,855.7 L1569.0,855.8 L1572.0,855.9 L1575.0,856.0 L1578.0,856.1 L1581.0,856.2 L1584.0,856.3 L1587.0,856.4 L1590.0,856.5 L1591.0,856.5"/>
<path stroke="#FF0000" stroke-width="5.6" d="M126.0,1017.0 L129.0,1016.8 L132.0,1016.6 L135.0,1016.4 L138.0,1016.2 L141.0,1016.0 L144.0,1015.7 L147.0,1015.5 L150.0,1015.2 L153.0,1014.9 L156.0,1014.6 L159.0,1014.3 L162.0,1014.0 L165.0,1013.7 L168.0,1013.3 L171.0,1013.0 L174.0,1012.6 L177.0,1012.3 L180.0,1011.9 L183.0,1011.5 L186.0,1011.1 L189.0,1010.6 L192.0,1010.2 L195.0,1009.7 L198.0,1009.2 L201.0,1008.7 L204.0,1008.2 L207.0,1007.6 L210.0,1007.0 L213.0,1006.5 L216.0,1005.9 L219.0,1005.3 L222.0,1004.6 L225.0,1004.0 L228.0,1003.3 L231.0,1002.7 L234.0,1002.0 L237.0,1001.3 L240.0,1000.5 L243.0,999.8 L246.0,998.9 L249.0,998.1 L252.0,997.2 L255.0,996.2 L258.0,995.2 L261.0,994.1 L264.0,992.9 L267.0,991.6 L270.0,990.2 L273.0,988.6 L276.0,986.9 L279.0,985.0 L282.0,982.9 L285.0,980.7 L288.0,978.4 L291.0,976.0 L294.0,973.4 L297.0,970.6 L300.0,967.3 L303.0,963.6 L306.0,959.7 L309.0,955.5 L312.0,951.2 L315.0,946.9 L318.0,942.7 L321.0,938.6 L324.0,934.2 L327.0,929.6 L330.0,925.3 L333.0,921.7 L336.0,919.3 L339.0,917.3 L342.0,915.5 L345.0,914.3 L348.0,914.0 L351.0,915.0 L354.0,917.0 L357.0,919.5 L360.0,923.3 L363.0,929.4 L366.0,936.4 L369.0,943.1 L372.0,948.7 L375.0,954.4 L378.0,959.9 L381.0,964.9 L384.0,968.9 L387.0,972.0 L390.0,974.7 L393.0,977.1 L396.0,979.0 L399.0,980.6 L402.0,981.7 L405.0,982.8 L408.0,983.7 L411.0,984.5 L414.0,985.2 L417.0,985.7 L420.0,986.0 L423.0,986.2 L426.0,986.4 L429.0,986.6 L432.0,986.8 L435.0,986.9 L438.0,987.1 L441.0,987.2 L444.0,987.4 L447.0,987.5 L450.0,987.6 L453.0,987.7 L456.0,987.8 L459.0,987.8 L462.0,987.9 L465.0,987.9 L468.0,988.0 L471.0,988.0 L474.0,988.0 L477.0,988.0 L480.0,988.0 L483.0,987.9 L486.0,987.9 L489.0,987.8 L492.0,987.7 L495.0,987.6 L498.0,987.4 L501.0,987.3 L504.0,987.2 L507.0,987.0 L510.0,986.9 L513.0,986.7 L516.0,986.5 L519.0,986.3 L522.0,986.2 L525.0,986.0 L528.0,985.8 L531.0,985.6 L534.0,985.4 L537.0,985.2 L540.0,984.9 L543.0,984.7 L546.0,984.4 L549.0,984.1 L552.0,983.8 L555.0,983.5 L558.0,983.1 L561.0,982.8 L564.0,982.4 L567.0,982.0 L570.0,981.7 L573.0,981.3 L576.0,980.9 L579.0,980.5 L582.0,980.1 L585.0,979.7 L588.0,979.2 L591.0,978.8 L594.0,978.4 L597.0,977.9 L600.0,977.5 L603.0,977.0 L606.0,976.6 L609.0,976.1 L612.0,975.6 L615.0,975.0 L618.0,974.5 L621.0,973.9 L624.0,973.3 L627.0,972.7 L630.0,972.0 L633.0,971.4 L636.0,970.7 L639.0,970.1 L642.0,969.4 L645.0,968.7 L648.0,968.0 L651.0,967.3 L654.0,966.5 L657.0,965.8 L660.0,965.0 L663.0,964.2 L666.0,963.3 L669.0,962.5 L672.0,961.6 L675.0,960.7 L678.0,959.8 L681.0,958.9 L684.0,957.9 L687.0,956.9 L690.0,955.9 L693.0,954.9 L696.0,953.9 L699.0,952.9 L702.0,951.8 L705.0,950.7 L708.0,949.6 L711.0,948.4 L714.0,947.2 L717.0,946.0 L720.0,944.8 L723.0,943.5 L726.0,942.2 L729.0,940.9 L732.0,939.6 L735.0,938.2 L738.0,936.8 L741.0,935.4 L744.0,934.0 L747.0,932.5 L750.0,931.0 L753.0,929.5 L756.0,927.9 L759.0,926.2 L762.0,924.5 L765.0,922.7 L768.0,920.9 L771.0,919.1 L774.0,917.2 L777.0,915.4 L780.0,913.5 L783.0,911.7 L786.0,909.9 L789.0,908.1 L792.0,906.3 L795.0,904.6 L798.0,902.8 L801.0,901.1 L804.0,899.4 L807.0,897.6 L810.0,895.9 L813.0,894.2 L816.0,892.4 L819.0,890.7 L822.0,889.0 L825.0,887.3 L828.0,885.5 L831.0,883.7 L834.0,882.0 L837.0,880.2 L840.0,878.6 L843.0,877.0 L846.0,875.5 L849.0,874.1 L852.0,872.7 L855.0,871.3 L858.0,869.9 L861.0,868.7 L864.0,867.5 L867.0,866.4 L870.0,865.5 L873.0,864.8 L876.0,864.1 L879.0,863.4 L882.0,862.8 L885.0,862.2 L888.0,861.7 L891.0,861.2 L894.0,860.8 L897.0,860.4 L900.0,860.1 L903.0,859.9 L906.0,859.8 L909.0,859.6 L912.0,859.4 L915.0,859.3 L918.0,859.2 L921.0,859.1 L924.0,859.0 L927.0,859.0 L930.0,859.0 L933.0,859.0 L936.0,859.1 L939.0,859.2 L942.0,859.2 L945.0,859.3 L948.0,859.4 L951.0,859.5 L954.0,859.7 L957.0,859.8 L960.0,859.9 L963.0,860.0 L966.0,860.2 L969.0,860.4 L972.0,860.6 L975.0,860.8 L978.0,861.1 L981.0,861.4 L984.0,861.7 L987.0,862.1 L990.0,862.4 L993.0,862.8 L996.0,863.3 L999.0,863.7 L1002.0,864.2 L1005.0,864.7 L1008.0,865.2 L1011.0,865.8 L1014.0,866.6 L1017.0,867.4 L1020.0,868.4 L1023.0,869.4 L1026.0,870.5 L1029.0,871.7 L1032.0,873.0 L1035.0,874.3 L1038.0,875.6 L1041.0,877.0 L1044.0,878.5 L1047.0,880.0 L1050.0,881.7 L1053.0,883.5 L1056.0,885.4 L1059.0,887.4 L1062.0,889.6 L1065.0,891.8 L1068.0,894.2 L1071.0,896.7 L1074.0,899.3 L1077.0,902.3 L1080.0,905.6 L1083.0,909.1 L1086.0,912.7 L1089.0,916.4 L1092.0,920.0 L1095.0,923.7 L1098.0,927.5 L1101.0,931.4 L1104.0,935.3 L1107.0,939.1 L1110.0,942.7 L1113.0,946.1 L1116.0,949.5 L1119.0,952.8 L1122.0,956.0 L1125.0,959.0 L1128.0,961.8 L1131.0,964.3 L1134.0,966.4 L1137.0,968.4 L1140.0,970.4 L1143.0,972.1 L1146.0,973.7 L1149.0,975.0 L1152.0,976.0 L1155.0,976.8 L1158.0,977.6 L1161.0,978.3 L1164.0,978.9 L1167.0,979.5 L1170.0,980.0 L1173.0,980.4 L1176.0,980.8 L1179.0,981.2 L1182.0,981.5 L1185.0,981.8 L1188.0,982.0 L1191.0,982.3 L1194.0,982.5 L1197.0,982.7 L1200.0,982.9 L1203.0,983.1 L1206.0,983.3 L1209.0,983.4 L1212.0,983.6 L1215.0,983.7 L1218.0,983.8 L1221.0,984.0 L1224.0,984.1 L1227.0,984.2 L1230.0,984.3 L1233.0,984.4 L1236.0,984.5 L1239.0,984.6 L1242.0,984.7 L1245.0,984.9 L1248.0,985.0 L1251.0,985.1 L1254.0,985.2 L1257.0,985.3 L1260.0,985.4 L1263.0,985.5 L1266.0,985.6 L1269.0,985.6 L1272.0,985.7 L1275.0,985.8 L1278.0,985.9 L1281.0,986.0 L1284.0,986.0 L1287.0,986.1 L1290.0,986.2 L1293.0,986.2 L1296.0,986.3 L1299.0,986.3 L1302.0,986.4 L1305.0,986.4 L1308.0,986.4 L1311.0,986.5 L1314.0,986.5 L1317.0,986.5 L1320.0,986.5 L1323.0,986.5 L1326.0,986.5 L1329.0,986.5 L1332.0,986.5 L1335.0,986.5 L1338.0,986.5 L1341.0,986.5 L1344.0,986.5 L1347.0,986.5 L1350.0,986.5 L1353.0,986.5 L1356.0,986.5 L1359.0,986.5 L1362.0,986.5 L1365.0,986.5 L1368.0,986.5 L1371.0,986.5 L1374.0,986.5 L1377.0,986.5 L1380.0,986.5 L1383.0,986.5 L1386.0,986.5 L1389.0,986.5 L1392.0,986.5 L1395.0,986.5 L1398.0,986.5 L1401.0,986.5 L1404.0,986.5 L1407.0,986.5 L1410.0,986.5 L1413.0,986.5 L1416.0,986.5 L1419.0,986.5 L1422.0,986.5 L1425.0,986.5 L1428.0,986.5 L1431.0,986.5 L1434.0,986.5 L1437.0,986.5 L1440.0,986.5 L1443.0,986.5 L1446.0,986.5 L1449.0,986.4 L1452.0,986.4 L1455.0,986.4 L1458.0,986.4 L1461.0,986.4 L1464.0,986.4 L1467.0,986.4 L1470.0,986.4 L1473.0,986.4 L1476.0,986.4 L1479.0,986.4 L1482.0,986.4 L1485.0,986.4 L1488.0,986.4 L1491.0,986.4 L1494.0,986.4 L1497.0,986.4 L1500.0,986.4 L1503.0,986.3 L1506.0,986.3 L1509.0,986.3 L1512.0,986.3 L1515.0,986.3 L1518.0,986.3 L1521.0,986.3 L1524.0,986.3 L1527.0,986.3 L1530.0,986.3 L1533.0,986.3 L1536.0,986.2 L1539.0,986.2 L1542.0,986.2 L1545.0,986.2 L1548.0,986.2 L1551.0,986.2 L1554.0,986.2 L1557.0,986.2 L1560.0,986.2 L1563.0,986.1 L1566.0,986.1 L1569.0,986.1 L1572.0,986.1 L1575.0,986.1 L1578.0,986.1 L1581.0,986.1 L1584.0,986.0 L1587.0,986.0 L1590.0,986.0 L1591.0,986.0"/>
<path stroke="#960000" stroke-width="5.6" d="M126.0,1161.0 L129.0,1160.8 L132.0,1160.6 L135.0,1160.4 L138.0,1160.1 L141.0,1159.8 L144.0,1159.5 L147.0,1159.1 L150.0,1158.8 L153.0,1158.4 L156.0,1158.0 L159.0,1157.5 L162.0,1157.1 L165.0,1156.6 L168.0,1156.1 L171.0,1155.7 L174.0,1155.2 L177.0,1154.7 L180.0,1154.1 L183.0,1153.5 L186.0,1152.8 L189.0,1152.1 L192.0,1151.4 L195.0,1150.6 L198.0,1149.9 L201.0,1149.0 L204.0,1148.2 L207.0,1147.3 L210.0,1146.5 L213.0,1145.6 L216.0,1144.7 L219.0,1143.8 L222.0,1142.9 L225.0,1142.0 L228.0,1141.1 L231.0,1140.1 L234.0,1139.0 L237.0,1138.0 L240.0,1136.8 L243.0,1135.6 L246.0,1134.3 L249.0,1133.0 L252.0,1131.5 L255.0,1129.9 L258.0,1128.1 L261.0,1126.1 L264.0,1124.0 L267.0,1121.7 L270.0,1119.3 L273.0,1116.8 L276.0,1114.1 L279.0,1111.1 L282.0,1107.9 L285.0,1104.4 L288.0,1100.5 L291.0,1096.2 L294.0,1091.6 L297.0,1086.4 L300.0,1079.9 L303.0,1072.7 L306.0,1065.1 L309.0,1057.5 L312.0,1049.7 L315.0,1041.2 L318.0,1033.6 L321.0,1028.6 L324.0,1024.9 L327.0,1024.2 L330.0,1026.7 L333.0,1030.8 L336.0,1039.1 L339.0,1051.1 L342.0,1063.2 L345.0,1074.2 L348.0,1085.7 L351.0,1095.9 L354.0,1103.6 L357.0,1110.3 L360.0,1115.8 L363.0,1119.5 L366.0,1122.3 L369.0,1124.7 L372.0,1126.4 L375.0,1127.5 L378.0,1128.1 L381.0,1128.7 L384.0,1129.2 L387.0,1129.6 L390.0,1130.0 L393.0,1130.2 L396.0,1130.4 L399.0,1130.5 L402.0,1130.5 L405.0,1130.5 L408.0,1130.5 L411.0,1130.5 L414.0,1130.5 L417.0,1130.5 L420.0,1130.5 L423.0,1130.5 L426.0,1130.5 L429.0,1130.5 L432.0,1130.5 L435.0,1130.5 L438.0,1130.5 L441.0,1130.5 L444.0,1130.5 L447.0,1130.5 L450.0,1130.5 L453.0,1130.5 L456.0,1130.5 L459.0,1130.4 L462.0,1130.3 L465.0,1130.3 L468.0,1130.2 L471.0,1130.1 L474.0,1129.9 L477.0,1129.8 L480.0,1129.7 L483.0,1129.5 L486.0,1129.3 L489.0,1129.2 L492.0,1129.0 L495.0,1128.8 L498.0,1128.6 L501.0,1128.4 L504.0,1128.2 L507.0,1127.9 L510.0,1127.6 L513.0,1127.2 L516.0,1126.8 L519.0,1126.4 L522.0,1126.0 L525.0,1125.5 L528.0,1125.0 L531.0,1124.4 L534.0,1123.9 L537.0,1123.4 L540.0,1122.8 L543.0,1122.3 L546.0,1121.7 L549.0,1121.2 L552.0,1120.6 L555.0,1120.1 L558.0,1119.5 L561.0,1119.0 L564.0,1118.4 L567.0,1117.8 L570.0,1117.1 L573.0,1116.5 L576.0,1115.9 L579.0,1115.2 L582.0,1114.5 L585.0,1113.8 L588.0,1113.1 L591.0,1112.3 L594.0,1111.6 L597.0,1110.8 L600.0,1110.0 L603.0,1109.2 L606.0,1108.3 L609.0,1107.4 L612.0,1106.5 L615.0,1105.5 L618.0,1104.5 L621.0,1103.5 L624.0,1102.5 L627.0,1101.4 L630.0,1100.3 L633.0,1099.2 L636.0,1098.1 L639.0,1096.9 L642.0,1095.7 L645.0,1094.5 L648.0,1093.3 L651.0,1092.1 L654.0,1090.8 L657.0,1089.5 L660.0,1088.1 L663.0,1086.7 L666.0,1085.3 L669.0,1083.8 L672.0,1082.4 L675.0,1080.8 L678.0,1079.3 L681.0,1077.7 L684.0,1076.1 L687.0,1074.5 L690.0,1072.9 L693.0,1071.3 L696.0,1069.7 L699.0,1068.0 L702.0,1066.4 L705.0,1064.7 L708.0,1062.9 L711.0,1061.1 L714.0,1059.3 L717.0,1057.4 L720.0,1055.5 L723.0,1053.6 L726.0,1051.7 L729.0,1049.8 L732.0,1047.9 L735.0,1046.1 L738.0,1044.3 L741.0,1042.5 L744.0,1040.8 L747.0,1039.1 L750.0,1037.5 L753.0,1035.9 L756.0,1034.4 L759.0,1032.8 L762.0,1031.3 L765.0,1029.7 L768.0,1028.2 L771.0,1026.8 L774.0,1025.4 L777.0,1024.0 L780.0,1022.7 L783.0,1021.5 L786.0,1020.4 L789.0,1019.3 L792.0,1018.4 L795.0,1017.4 L798.0,1016.5 L801.0,1015.6 L804.0,1014.7 L807.0,1013.9 L810.0,1013.1 L813.0,1012.4 L816.0,1011.9 L819.0,1011.4 L822.0,1011.0 L825.0,1010.7 L828.0,1010.4 L831.0,1010.1 L834.0,1009.8 L837.0,1009.6 L840.0,1009.4 L843.0,1009.2 L846.0,1009.1 L849.0,1009.0 L852.0,1009.0 L855.0,1009.1 L858.0,1009.2 L861.0,1009.5 L864.0,1009.8 L867.0,1010.2 L870.0,1010.6 L873.0,1011.1 L876.0,1011.5 L879.0,1012.0 L882.0,1012.5 L885.0,1013.0 L888.0,1013.6 L891.0,1014.2 L894.0,1014.9 L897.0,1015.7 L900.0,1016.5 L903.0,1017.3 L906.0,1018.1 L909.0,1019.0 L912.0,1019.8 L915.0,1020.7 L918.0,1021.5 L921.0,1022.2 L924.0,1023.0 L927.0,1023.7 L930.0,1024.5 L933.0,1025.2 L936.0,1025.9 L939.0,1026.6 L942.0,1027.3 L945.0,1028.0 L948.0,1028.8 L951.0,1029.5 L954.0,1030.3 L957.0,1031.1 L960.0,1031.9 L963.0,1032.8 L966.0,1033.7 L969.0,1034.6 L972.0,1035.5 L975.0,1036.4 L978.0,1037.4 L981.0,1038.4 L984.0,1039.5 L987.0,1040.6 L990.0,1041.7 L993.0,1042.9 L996.0,1044.1 L999.0,1045.4 L1002.0,1046.7 L1005.0,1048.1 L1008.0,1049.7 L1011.0,1051.3 L1014.0,1053.1 L1017.0,1055.0 L1020.0,1057.3 L1023.0,1060.1 L1026.0,1063.3 L1029.0,1066.6 L1032.0,1069.9 L1035.0,1073.0 L1038.0,1075.9 L1041.0,1078.8 L1044.0,1081.5 L1047.0,1084.3 L1050.0,1086.9 L1053.0,1089.4 L1056.0,1091.8 L1059.0,1093.9 L1062.0,1096.0 L1065.0,1098.0 L1068.0,1100.0 L1071.0,1101.8 L1074.0,1103.5 L1077.0,1105.1 L1080.0,1106.6 L1083.0,1107.9 L1086.0,1109.2 L1089.0,1110.4 L1092.0,1111.6 L1095.0,1112.7 L1098.0,1113.8 L1101.0,1114.7 L1104.0,1115.6 L1107.0,1116.4 L1110.0,1117.1 L1113.0,1117.7 L1116.0,1118.2 L1119.0,1118.7 L1122.0,1119.2 L1125.0,1119.6 L1128.0,1120.0 L1131.0,1120.4 L1134.0,1120.8 L1137.0,1121.1 L1140.0,1121.5 L1143.0,1121.7 L1146.0,1122.0 L1149.0,1122.3 L1152.0,1122.5 L1155.0,1122.7 L1158.0,1122.9 L1161.0,1123.1 L1164.0,1123.3 L1167.0,1123.5 L1170.0,1123.7 L1173.0,1123.9 L1176.0,1124.1 L1179.0,1124.3 L1182.0,1124.4 L1185.0,1124.6 L1188.0,1124.8 L1191.0,1124.9 L1194.0,1125.0 L1197.0,1125.2 L1200.0,1125.3 L1203.0,1125.4 L1206.0,1125.5 L1209.0,1125.6 L1212.0,1125.7 L1215.0,1125.8 L1218.0,1125.9 L1221.0,1126.0 L1224.0,1126.0 L1227.0,1126.1 L1230.0,1126.2 L1233.0,1126.2 L1236.0,1126.3 L1239.0,1126.4 L1242.0,1126.4 L1245.0,1126.5 L1248.0,1126.6 L1251.0,1126.6 L1254.0,1126.7 L1257.0,1126.7 L1260.0,1126.8 L1263.0,1126.9 L1266.0,1126.9 L1269.0,1127.0 L1272.0,1127.0 L1275.0,1127.1 L1278.0,1127.1 L1281.0,1127.2 L1284.0,1127.2 L1287.0,1127.3 L1290.0,1127.3 L1293.0,1127.4 L1296.0,1127.4 L1299.0,1127.5 L1302.0,1127.5 L1305.0,1127.5 L1308.0,1127.6 L1311.0,1127.6 L1314.0,1127.6 L1317.0,1127.7 L1320.0,1127.7 L1323.0,1127.7 L1326.0,1127.8 L1329.0,1127.8 L1332.0,1127.8 L1335.0,1127.9 L1338.0,1127.9 L1341.0,1127.9 L1344.0,1127.9 L1347.0,1127.9 L1350.0,1127.9 L1353.0,1128.0 L1356.0,1128.0 L1359.0,1128.0 L1362.0,1128.0 L1365.0,1128.0 L1368.0,1128.0 L1371.0,1128.0 L1374.0,1128.0 L1377.0,1128.0 L1380.0,1128.0 L1383.0,1128.0 L1386.0,1128.0 L1389.0,1128.0 L1392.0,1128.0 L1395.0,1128.0 L1398.0,1128.0 L1401.0,1128.0 L1404.0,1128.0 L1407.0,1128.0 L1410.0,1128.0 L1413.0,1128.0 L1416.0,1128.0 L1419.0,1128.0 L1422.0,1128.0 L1425.0,1128.0 L1428.0,1128.0 L1431.0,1128.0 L1434.0,1128.0 L1437.0,1128.0 L1440.0,1128.0 L1443.0,1128.0 L1446.0,1128.0 L1449.0,1128.0 L1452.0,1128.0 L1455.0,1128.0 L1458.0,1128.0 L1461.0,1128.0 L1464.0,1128.0 L1467.0,1128.0 L1470.0,1128.0 L1473.0,1128.0 L1476.0,1127.9 L1479.0,1127.9 L1482.0,1127.9 L1485.0,1127.9 L1488.0,1127.9 L1491.0,1127.9 L1494.0,1127.9 L1497.0,1127.9 L1500.0,1127.9 L1503.0,1127.9 L1506.0,1127.9 L1509.0,1127.9 L1512.0,1127.9 L1515.0,1127.9 L1518.0,1127.9 L1521.0,1127.8 L1524.0,1127.8 L1527.0,1127.8 L1530.0,1127.8 L1533.0,1127.8 L1536.0,1127.8 L1539.0,1127.8 L1542.0,1127.8 L1545.0,1127.8 L1548.0,1127.7 L1551.0,1127.7 L1554.0,1127.7 L1557.0,1127.7 L1560.0,1127.7 L1563.0,1127.7 L1566.0,1127.7 L1569.0,1127.6 L1572.0,1127.6 L1575.0,1127.6 L1578.0,1127.6 L1581.0,1127.6 L1584.0,1127.5 L1587.0,1127.5 L1590.0,1127.5 L1591.0,1127.5"/>
<path stroke="#00FF00" stroke-width="5.6" d="M126.0,1360.0 L129.0,1359.6 L132.0,1359.1 L135.0,1358.7 L138.0,1358.2 L141.0,1357.8 L144.0,1357.3 L147.0,1356.8 L150.0,1356.4 L153.0,1355.9 L156.0,1355.5 L159.0,1355.0 L162.0,1354.5 L165.0,1354.1 L168.0,1353.6 L171.0,1353.1 L174.0,1352.7 L177.0,1352.2 L180.0,1351.7 L183.0,1351.3 L186.0,1350.9 L189.0,1350.4 L192.0,1350.0 L195.0,1349.5 L198.0,1349.1 L201.0,1348.6 L204.0,1348.1 L207.0,1347.6 L210.0,1347.0 L213.0,1346.4 L216.0,1345.8 L219.0,1345.1 L222.0,1344.3 L225.0,1343.5 L228.0,1342.6 L231.0,1341.7 L234.0,1340.8 L237.0,1339.8 L240.0,1338.7 L243.0,1337.6 L246.0,1336.5 L249.0,1335.4 L252.0,1334.2 L255.0,1333.0 L258.0,1331.7 L261.0,1330.3 L264.0,1328.9 L267.0,1327.4 L270.0,1325.8 L273.0,1324.1 L276.0,1322.4 L279.0,1320.6 L282.0,1318.7 L285.0,1316.3 L288.0,1313.7 L291.0,1311.0 L294.0,1308.2 L297.0,1305.5 L300.0,1303.1 L303.0,1301.1 L306.0,1299.5 L309.0,1298.0 L312.0,1296.6 L315.0,1295.3 L318.0,1294.2 L321.0,1293.4 L324.0,1293.0 L327.0,1293.1 L330.0,1293.7 L333.0,1294.7 L336.0,1295.9 L339.0,1297.1 L342.0,1298.4 L345.0,1300.0 L348.0,1301.8 L351.0,1303.8 L354.0,1305.9 L357.0,1307.8 L360.0,1309.6 L363.0,1311.2 L366.0,1312.4 L369.0,1313.4 L372.0,1314.4 L375.0,1315.3 L378.0,1316.1 L381.0,1316.9 L384.0,1317.6 L387.0,1318.2 L390.0,1318.7 L393.0,1319.1 L396.0,1319.5 L399.0,1319.9 L402.0,1320.2 L405.0,1320.5 L408.0,1320.8 L411.0,1321.0 L414.0,1321.2 L417.0,1321.4 L420.0,1321.5 L423.0,1321.6 L426.0,1321.6 L429.0,1321.7 L432.0,1321.8 L435.0,1321.8 L438.0,1321.9 L441.0,1322.0 L444.0,1322.0 L447.0,1322.1 L450.0,1322.1 L453.0,1322.2 L456.0,1322.2 L459.0,1322.2 L462.0,1322.3 L465.0,1322.3 L468.0,1322.3 L471.0,1322.4 L474.0,1322.4 L477.0,1322.4 L480.0,1322.4 L483.0,1322.5 L486.0,1322.5 L489.0,1322.5 L492.0,1322.5 L495.0,1322.5 L498.0,1322.5 L501.0,1322.5 L504.0,1322.5 L507.0,1322.5 L510.0,1322.4 L513.0,1322.4 L516.0,1322.3 L519.0,1322.2 L522.0,1322.1 L525.0,1322.0 L528.0,1321.9 L531.0,1321.7 L534.0,1321.6 L537.0,1321.4 L540.0,1321.3 L543.0,1321.1 L546.0,1320.9 L549.0,1320.8 L552.0,1320.6 L555.0,1320.4 L558.0,1320.2 L561.0,1320.0 L564.0,1319.8 L567.0,1319.6 L570.0,1319.4 L573.0,1319.1 L576.0,1318.9 L579.0,1318.7 L582.0,1318.5 L585.0,1318.2 L588.0,1317.9 L591.0,1317.6 L594.0,1317.3 L597.0,1316.9 L600.0,1316.5 L603.0,1316.1 L606.0,1315.7 L609.0,1315.3 L612.0,1314.8 L615.0,1314.3 L618.0,1313.8 L621.0,1313.3 L624.0,1312.7 L627.0,1312.1 L630.0,1311.4 L633.0,1310.6 L636.0,1309.7 L639.0,1308.8 L642.0,1307.7 L645.0,1306.6 L648.0,1305.4 L651.0,1304.2 L654.0,1302.8 L657.0,1301.4 L660.0,1300.0 L663.0,1298.4 L666.0,1296.5 L669.0,1294.5 L672.0,1292.3 L675.0,1289.9 L678.0,1287.4 L681.0,1284.9 L684.0,1282.2 L687.0,1279.6 L690.0,1277.0 L693.0,1274.3 L696.0,1271.5 L699.0,1268.6 L702.0,1265.6 L705.0,1262.5 L708.0,1259.4 L711.0,1256.2 L714.0,1253.1 L717.0,1250.0 L720.0,1246.9 L723.0,1243.9 L726.0,1241.0 L729.0,1238.2 L732.0,1235.4 L735.0,1232.6 L738.0,1229.8 L741.0,1227.0 L744.0,1224.3 L747.0,1221.5 L750.0,1218.8 L753.0,1216.2 L756.0,1213.5 L759.0,1210.9 L762.0,1208.2 L765.0,1205.5 L768.0,1202.8 L771.0,1200.0 L774.0,1197.3 L777.0,1194.6 L780.0,1192.1 L783.0,1189.7 L786.0,1187.5 L789.0,1185.6 L792.0,1183.9 L795.0,1182.3 L798.0,1180.8 L801.0,1179.5 L804.0,1178.2 L807.0,1177.0 L810.0,1175.8 L813.0,1174.6 L816.0,1173.4 L819.0,1172.2 L822.0,1171.0 L825.0,1169.8 L828.0,1168.6 L831.0,1167.4 L834.0,1166.3 L837.0,1165.2 L840.0,1164.0 L843.0,1162.8 L846.0,1161.6 L849.0,1160.3 L852.0,1159.0 L855.0,1157.5 L858.0,1155.9 L861.0,1154.2 L864.0,1152.4 L867.0,1150.6 L870.0,1148.8 L873.0,1147.0 L876.0,1145.4 L879.0,1143.9 L882.0,1142.5 L885.0,1141.2 L888.0,1140.0 L891.0,1138.7 L894.0,1137.5 L897.0,1136.4 L900.0,1135.5 L903.0,1134.7 L906.0,1134.1 L909.0,1133.8 L912.0,1133.4 L915.0,1133.1 L918.0,1132.9 L921.0,1132.7 L924.0,1132.5 L927.0,1132.5 L930.0,1132.6 L933.0,1132.9 L936.0,1133.4 L939.0,1134.0 L942.0,1134.7 L945.0,1135.5 L948.0,1136.3 L951.0,1137.3 L954.0,1138.7 L957.0,1140.2 L960.0,1142.0 L963.0,1143.9 L966.0,1145.9 L969.0,1147.9 L972.0,1150.0 L975.0,1152.2 L978.0,1154.5 L981.0,1157.0 L984.0,1159.6 L987.0,1162.4 L990.0,1165.3 L993.0,1168.3 L996.0,1171.4 L999.0,1174.7 L1002.0,1178.1 L1005.0,1181.8 L1008.0,1185.6 L1011.0,1189.6 L1014.0,1193.7 L1017.0,1197.9 L1020.0,1202.1 L1023.0,1206.4 L1026.0,1210.9 L1029.0,1215.4 L1032.0,1220.1 L1035.0,1224.9 L1038.0,1229.8 L1041.0,1234.8 L1044.0,1239.9 L1047.0,1245.0 L1050.0,1250.4 L1053.0,1256.1 L1056.0,1262.0 L1059.0,1267.9 L1062.0,1273.5 L1065.0,1278.8 L1068.0,1283.5 L1071.0,1288.2 L1074.0,1292.8 L1077.0,1296.9 L1080.0,1300.3 L1083.0,1302.7 L1086.0,1304.8 L1089.0,1306.6 L1092.0,1308.2 L1095.0,1309.5 L1098.0,1310.7 L1101.0,1311.7 L1104.0,1312.5 L1107.0,1313.3 L1110.0,1314.0 L1113.0,1314.7 L1116.0,1315.3 L1119.0,1315.8 L1122.0,1316.3 L1125.0,1316.8 L1128.0,1317.1 L1131.0,1317.4 L1134.0,1317.7 L1137.0,1317.9 L1140.0,1318.1 L1143.0,1318.3 L1146.0,1318.5 L1149.0,1318.7 L1152.0,1318.9 L1155.0,1319.1 L1158.0,1319.3 L1161.0,1319.4 L1164.0,1319.6 L1167.0,1319.8 L1170.0,1319.9 L1173.0,1320.1 L1176.0,1320.2 L1179.0,1320.3 L1182.0,1320.4 L1185.0,1320.6 L1188.0,1320.7 L1191.0,1320.8 L1194.0,1320.9 L1197.0,1321.0 L1200.0,1321.0 L1203.0,1321.1 L1206.0,1321.2 L1209.0,1321.3 L1212.0,1321.3 L1215.0,1321.4 L1218.0,1321.4 L1221.0,1321.5 L1224.0,1321.5 L1227.0,1321.6 L1230.0,1321.6 L1233.0,1321.7 L1236.0,1321.7 L1239.0,1321.7 L1242.0,1321.8 L1245.0,1321.8 L1248.0,1321.8 L1251.0,1321.9 L1254.0,1321.9 L1257.0,1322.0 L1260.0,1322.0 L1263.0,1322.0 L1266.0,1322.1 L1269.0,1322.1 L1272.0,1322.1 L1275.0,1322.2 L1278.0,1322.2 L1281.0,1322.2 L1284.0,1322.3 L1287.0,1322.3 L1290.0,1322.3 L1293.0,1322.3 L1296.0,1322.4 L1299.0,1322.4 L1302.0,1322.4 L1305.0,1322.5 L1308.0,1322.5 L1311.0,1322.5 L1314.0,1322.5 L1317.0,1322.6 L1320.0,1322.6 L1323.0,1322.6 L1326.0,1322.6 L1329.0,1322.7 L1332.0,1322.7 L1335.0,1322.7 L1338.0,1322.7 L1341.0,1322.7 L1344.0,1322.8 L1347.0,1322.8 L1350.0,1322.8 L1353.0,1322.8 L1356.0,1322.8 L1359.0,1322.8 L1362.0,1322.9 L1365.0,1322.9 L1368.0,1322.9 L1371.0,1322.9 L1374.0,1322.9 L1377.0,1322.9 L1380.0,1322.9 L1383.0,1322.9 L1386.0,1322.9 L1389.0,1323.0 L1392.0,1323.0 L1395.0,1323.0 L1398.0,1323.0 L1401.0,1323.0 L1404.0,1323.0 L1407.0,1323.0 L1410.0,1323.0 L1413.0,1323.0 L1416.0,1323.0 L1419.0,1323.0 L1422.0,1323.0 L1425.0,1323.0 L1428.0,1323.0 L1431.0,1323.0 L1434.0,1323.0 L1437.0,1323.0 L1440.0,1323.0 L1443.0,1323.0 L1446.0,1323.0 L1449.0,1323.0 L1452.0,1322.9 L1455.0,1322.9 L1458.0,1322.9 L1461.0,1322.9 L1464.0,1322.9 L1467.0,1322.9 L1470.0,1322.9 L1473.0,1322.8 L1476.0,1322.8 L1479.0,1322.8 L1482.0,1322.8 L1485.0,1322.8 L1488.0,1322.7 L1491.0,1322.7 L1494.0,1322.7 L1497.0,1322.7 L1500.0,1322.7 L1503.0,1322.6 L1506.0,1322.6 L1509.0,1322.6 L1512.0,1322.5 L1515.0,1322.5 L1518.0,1322.5 L1521.0,1322.5 L1524.0,1322.4 L1527.0,1322.4 L1530.0,1322.4 L1533.0,1322.3 L1536.0,1322.3 L1539.0,1322.2 L1542.0,1322.2 L1545.0,1322.2 L1548.0,1322.1 L1551.0,1322.1 L1554.0,1322.1 L1557.0,1322.0 L1560.0,1322.0 L1563.0,1321.9 L1566.0,1321.9 L1569.0,1321.8 L1572.0,1321.8 L1575.0,1321.8 L1578.0,1321.7 L1581.0,1321.7 L1584.0,1321.6 L1587.0,1321.6 L1590.0,1321.5 L1591.0,1321.5"/>
<path stroke="#008000" stroke-width="5.2" d="M126.0,1616.0 L129.0,1615.9 L132.0,1615.7 L135.0,1615.5 L138.0,1615.3 L141.0,1615.1 L144.0,1614.9 L147.0,1614.6 L150.0,1614.3 L153.0,1614.0 L156.0,1613.7 L159.0,1613.4 L162.0,1613.1 L165.0,1612.7 L168.0,1612.4 L171.0,1612.0 L174.0,1611.6 L177.0,1611.2 L180.0,1610.8 L183.0,1610.4 L186.0,1610.0 L189.0,1609.5 L192.0,1609.0 L195.0,1608.4 L198.0,1607.8 L201.0,1607.2 L204.0,1606.6 L207.0,1605.9 L210.0,1605.2 L213.0,1604.5 L216.0,1603.7 L219.0,1602.9 L222.0,1602.0 L225.0,1600.9 L228.0,1599.8 L231.0,1598.7 L234.0,1597.5 L237.0,1596.2 L240.0,1594.8 L243.0,1593.4 L246.0,1592.0 L249.0,1590.5 L252.0,1589.0 L255.0,1587.4 L258.0,1585.7 L261.0,1583.9 L264.0,1582.0 L267.0,1580.0 L270.0,1577.9 L273.0,1575.7 L276.0,1573.3 L279.0,1570.9 L282.0,1568.2 L285.0,1565.3 L288.0,1562.2 L291.0,1558.8 L294.0,1555.2 L297.0,1551.3 L300.0,1547.3 L303.0,1543.0 L306.0,1538.4 L309.0,1533.2 L312.0,1527.4 L315.0,1521.2 L318.0,1514.8 L321.0,1508.3 L324.0,1502.0 L327.0,1495.7 L330.0,1488.9 L333.0,1482.3 L336.0,1476.9 L339.0,1473.4 L342.0,1470.7 L345.0,1470.2 L348.0,1472.1 L351.0,1475.5 L354.0,1480.1 L357.0,1488.1 L360.0,1498.3 L363.0,1508.8 L366.0,1517.9 L369.0,1526.7 L372.0,1535.5 L375.0,1543.8 L378.0,1551.0 L381.0,1556.8 L384.0,1561.8 L387.0,1566.4 L390.0,1570.4 L393.0,1573.5 L396.0,1575.6 L399.0,1577.4 L402.0,1579.1 L405.0,1580.5 L408.0,1581.8 L411.0,1582.9 L414.0,1583.8 L417.0,1584.5 L420.0,1585.0 L423.0,1585.4 L426.0,1585.8 L429.0,1586.1 L432.0,1586.4 L435.0,1586.6 L438.0,1586.8 L441.0,1587.0 L444.0,1587.2 L447.0,1587.4 L450.0,1587.5 L453.0,1587.6 L456.0,1587.8 L459.0,1587.9 L462.0,1588.0 L465.0,1588.2 L468.0,1588.3 L471.0,1588.4 L474.0,1588.5 L477.0,1588.6 L480.0,1588.7 L483.0,1588.8 L486.0,1588.8 L489.0,1588.9 L492.0,1588.9 L495.0,1589.0 L498.0,1589.0 L501.0,1589.0 L504.0,1589.0 L507.0,1589.0 L510.0,1588.9 L513.0,1588.9 L516.0,1588.8 L519.0,1588.8 L522.0,1588.7 L525.0,1588.6 L528.0,1588.5 L531.0,1588.4 L534.0,1588.3 L537.0,1588.1 L540.0,1588.0 L543.0,1587.8 L546.0,1587.3 L549.0,1586.7 L552.0,1586.0 L555.0,1585.1 L558.0,1584.2 L561.0,1583.2 L564.0,1582.3 L567.0,1581.3 L570.0,1580.4 L573.0,1579.5 L576.0,1578.8 L579.0,1578.0 L582.0,1577.4 L585.0,1576.7 L588.0,1576.0 L591.0,1575.4 L594.0,1574.8 L597.0,1574.1 L600.0,1573.5 L603.0,1572.9 L606.0,1572.2 L609.0,1571.5 L612.0,1570.8 L615.0,1570.1 L618.0,1569.4 L621.0,1568.6 L624.0,1567.8 L627.0,1566.9 L630.0,1566.0 L633.0,1565.1 L636.0,1564.1 L639.0,1563.1 L642.0,1562.1 L645.0,1561.1 L648.0,1560.0 L651.0,1558.9 L654.0,1557.7 L657.0,1556.5 L660.0,1555.3 L663.0,1554.1 L666.0,1552.9 L669.0,1551.6 L672.0,1550.3 L675.0,1549.0 L678.0,1547.7 L681.0,1546.3 L684.0,1544.9 L687.0,1543.5 L690.0,1542.0 L693.0,1540.5 L696.0,1538.9 L699.0,1537.3 L702.0,1535.6 L705.0,1533.9 L708.0,1532.1 L711.0,1530.2 L714.0,1528.2 L717.0,1526.1 L720.0,1523.8 L723.0,1521.3 L726.0,1518.7 L729.0,1516.0 L732.0,1513.1 L735.0,1510.1 L738.0,1507.1 L741.0,1504.1 L744.0,1501.1 L747.0,1498.0 L750.0,1495.0 L753.0,1492.0 L756.0,1488.9 L759.0,1485.7 L762.0,1482.5 L765.0,1479.2 L768.0,1475.9 L771.0,1472.6 L774.0,1469.3 L777.0,1466.0 L780.0,1462.8 L783.0,1459.6 L786.0,1456.5 L789.0,1453.3 L792.0,1450.2 L795.0,1447.1 L798.0,1444.0 L801.0,1440.9 L804.0,1437.8 L807.0,1434.8 L810.0,1431.7 L813.0,1428.7 L816.0,1425.8 L819.0,1422.9 L822.0,1420.0 L825.0,1417.1 L828.0,1414.3 L831.0,1411.4 L834.0,1408.6 L837.0,1405.9 L840.0,1403.2 L843.0,1400.7 L846.0,1398.3 L849.0,1396.0 L852.0,1393.7 L855.0,1391.5 L858.0,1389.4 L861.0,1387.3 L864.0,1385.2 L867.0,1383.3 L870.0,1381.4 L873.0,1379.6 L876.0,1377.9 L879.0,1376.4 L882.0,1375.0 L885.0,1373.7 L888.0,1372.3 L891.0,1371.0 L894.0,1369.7 L897.0,1368.4 L900.0,1367.2 L903.0,1366.1 L906.0,1365.0 L909.0,1364.1 L912.0,1363.2 L915.0,1362.5 L918.0,1362.0 L921.0,1361.6 L924.0,1361.3 L927.0,1361.1 L930.0,1360.9 L933.0,1360.7 L936.0,1360.5 L939.0,1360.3 L942.0,1360.2 L945.0,1360.1 L948.0,1360.0 L951.0,1360.0 L954.0,1360.1 L957.0,1360.3 L960.0,1360.8 L963.0,1361.4 L966.0,1362.2 L969.0,1363.0 L972.0,1364.0 L975.0,1365.0 L978.0,1366.1 L981.0,1367.1 L984.0,1368.2 L987.0,1369.5 L990.0,1371.0 L993.0,1372.6 L996.0,1374.3 L999.0,1376.1 L1002.0,1378.1 L1005.0,1380.1 L1008.0,1382.3 L1011.0,1384.4 L1014.0,1386.6 L1017.0,1388.8 L1020.0,1391.0 L1023.0,1393.2 L1026.0,1395.5 L1029.0,1398.0 L1032.0,1400.5 L1035.0,1403.1 L1038.0,1405.7 L1041.0,1408.5 L1044.0,1411.2 L1047.0,1414.0 L1050.0,1416.8 L1053.0,1419.5 L1056.0,1422.2 L1059.0,1424.9 L1062.0,1427.5 L1065.0,1430.0 L1068.0,1432.4 L1071.0,1434.8 L1074.0,1437.2 L1077.0,1439.6 L1080.0,1442.0 L1083.0,1444.4 L1086.0,1447.0 L1089.0,1449.7 L1092.0,1452.5 L1095.0,1455.4 L1098.0,1458.5 L1101.0,1461.7 L1104.0,1465.0 L1107.0,1468.6 L1110.0,1472.3 L1113.0,1476.4 L1116.0,1480.9 L1119.0,1485.8 L1122.0,1491.0 L1125.0,1496.4 L1128.0,1501.9 L1131.0,1507.8 L1134.0,1514.0 L1137.0,1520.2 L1140.0,1526.2 L1143.0,1531.8 L1146.0,1537.4 L1149.0,1543.0 L1152.0,1548.1 L1155.0,1552.6 L1158.0,1556.1 L1161.0,1559.2 L1164.0,1562.0 L1167.0,1564.5 L1170.0,1566.8 L1173.0,1568.8 L1176.0,1570.5 L1179.0,1571.9 L1182.0,1573.3 L1185.0,1574.5 L1188.0,1575.7 L1191.0,1576.7 L1194.0,1577.7 L1197.0,1578.6 L1200.0,1579.4 L1203.0,1580.1 L1206.0,1580.8 L1209.0,1581.4 L1212.0,1582.0 L1215.0,1582.5 L1218.0,1583.0 L1221.0,1583.5 L1224.0,1583.9 L1227.0,1584.4 L1230.0,1584.8 L1233.0,1585.1 L1236.0,1585.5 L1239.0,1585.8 L1242.0,1586.1 L1245.0,1586.3 L1248.0,1586.6 L1251.0,1586.8 L1254.0,1587.0 L1257.0,1587.2 L1260.0,1587.4 L1263.0,1587.5 L1266.0,1587.7 L1269.0,1587.9 L1272.0,1588.0 L1275.0,1588.1 L1278.0,1588.3 L1281.0,1588.4 L1284.0,1588.5 L1287.0,1588.7 L1290.0,1588.8 L1293.0,1588.9 L1296.0,1589.0 L1299.0,1589.1 L1302.0,1589.2 L1305.0,1589.4 L1308.0,1589.5 L1311.0,1589.6 L1314.0,1589.7 L1317.0,1589.8 L1320.0,1589.9 L1323.0,1590.0 L1326.0,1590.2 L1329.0,1590.3 L1332.0,1590.4 L1335.0,1590.5 L1338.0,1590.6 L1341.0,1590.8 L1344.0,1590.9 L1347.0,1591.0 L1350.0,1591.1 L1353.0,1591.2 L1356.0,1591.4 L1359.0,1591.5 L1362.0,1591.6 L1365.0,1591.7 L1368.0,1591.8 L1371.0,1591.9 L1374.0,1592.1 L1377.0,1592.2 L1380.0,1592.3 L1383.0,1592.4 L1386.0,1592.5 L1389.0,1592.6 L1392.0,1592.7 L1395.0,1592.8 L1398.0,1592.9 L1401.0,1593.0 L1404.0,1593.2 L1407.0,1593.3 L1410.0,1593.4 L1413.0,1593.5 L1416.0,1593.6 L1419.0,1593.6 L1422.0,1593.7 L1425.0,1593.8 L1428.0,1593.9 L1431.0,1594.0 L1434.0,1594.1 L1437.0,1594.2 L1440.0,1594.3 L1443.0,1594.4 L1446.0,1594.4 L1449.0,1594.5 L1452.0,1594.6 L1455.0,1594.6 L1458.0,1594.7 L1461.0,1594.8 L1464.0,1594.8 L1467.0,1594.9 L1470.0,1595.0 L1473.0,1595.0 L1476.0,1595.1 L1479.0,1595.1 L1482.0,1595.2 L1485.0,1595.2 L1488.0,1595.3 L1491.0,1595.3 L1494.0,1595.4 L1497.0,1595.4 L1500.0,1595.5 L1503.0,1595.5 L1506.0,1595.6 L1509.0,1595.6 L1512.0,1595.7 L1515.0,1595.7 L1518.0,1595.8 L1521.0,1595.8 L1524.0,1595.9 L1527.0,1595.9 L1530.0,1595.9 L1533.0,1596.0 L1536.0,1596.0 L1539.0,1596.1 L1542.0,1596.1 L1545.0,1596.1 L1548.0,1596.2 L1551.0,1596.2 L1554.0,1596.2 L1557.0,1596.3 L1560.0,1596.3 L1563.0,1596.3 L1566.0,1596.4 L1569.0,1596.4 L1572.0,1596.4 L1575.0,1596.4 L1578.0,1596.4 L1581.0,1596.5 L1584.0,1596.5 L1587.0,1596.5 L1590.0,1596.5 L1591.0,1596.5"/>
<path stroke="#008080" stroke-width="5.8" d="M126.0,1864.0 L129.0,1863.6 L132.0,1863.2 L135.0,1862.7 L138.0,1862.2 L141.0,1861.6 L144.0,1861.1 L147.0,1860.4 L150.0,1859.8 L153.0,1859.1 L156.0,1858.5 L159.0,1857.7 L162.0,1857.0 L165.0,1856.3 L168.0,1855.5 L171.0,1854.7 L174.0,1853.8 L177.0,1852.9 L180.0,1852.0 L183.0,1851.0 L186.0,1849.9 L189.0,1848.8 L192.0,1847.6 L195.0,1846.3 L198.0,1844.9 L201.0,1843.5 L204.0,1841.9 L207.0,1840.0 L210.0,1837.9 L213.0,1835.6 L216.0,1833.2 L219.0,1830.6 L222.0,1827.9 L225.0,1825.0 L228.0,1822.0 L231.0,1819.0 L234.0,1815.6 L237.0,1812.0 L240.0,1808.2 L243.0,1804.0 L246.0,1799.6 L249.0,1795.0 L252.0,1790.1 L255.0,1785.0 L258.0,1779.4 L261.0,1773.2 L264.0,1766.5 L267.0,1759.5 L270.0,1752.2 L273.0,1744.9 L276.0,1737.5 L279.0,1729.3 L282.0,1720.8 L285.0,1712.9 L288.0,1706.6 L291.0,1701.1 L294.0,1696.9 L297.0,1694.5 L300.0,1694.6 L303.0,1698.7 L306.0,1705.1 L309.0,1717.7 L312.0,1732.7 L315.0,1746.6 L318.0,1761.1 L321.0,1774.4 L324.0,1785.0 L327.0,1794.5 L330.0,1802.4 L333.0,1808.3 L336.0,1813.0 L339.0,1817.0 L342.0,1820.2 L345.0,1822.5 L348.0,1824.2 L351.0,1825.8 L354.0,1827.2 L357.0,1828.3 L360.0,1829.2 L363.0,1829.8 L366.0,1830.1 L369.0,1830.2 L372.0,1830.4 L375.0,1830.5 L378.0,1830.6 L381.0,1830.7 L384.0,1830.8 L387.0,1830.9 L390.0,1830.9 L393.0,1831.0 L396.0,1831.0 L399.0,1831.0 L402.0,1831.0 L405.0,1831.0 L408.0,1831.0 L411.0,1831.0 L414.0,1831.0 L417.0,1831.0 L420.0,1831.0 L423.0,1831.0 L426.0,1831.0 L429.0,1831.0 L432.0,1831.0 L435.0,1831.0 L438.0,1831.0 L441.0,1831.0 L444.0,1831.0 L447.0,1831.0 L450.0,1831.0 L453.0,1830.9 L456.0,1830.7 L459.0,1830.4 L462.0,1830.0 L465.0,1829.5 L468.0,1828.9 L471.0,1828.3 L474.0,1827.7 L477.0,1827.1 L480.0,1826.5 L483.0,1825.9 L486.0,1825.2 L489.0,1824.4 L492.0,1823.6 L495.0,1822.8 L498.0,1821.9 L501.0,1821.0 L504.0,1820.0 L507.0,1819.0 L510.0,1818.0 L513.0,1816.9 L516.0,1815.8 L519.0,1814.7 L522.0,1813.6 L525.0,1812.5 L528.0,1811.4 L531.0,1810.2 L534.0,1808.9 L537.0,1807.6 L540.0,1806.3 L543.0,1805.0 L546.0,1803.6 L549.0,1802.1 L552.0,1800.7 L555.0,1799.2 L558.0,1797.7 L561.0,1796.2 L564.0,1794.7 L567.0,1793.1 L570.0,1791.6 L573.0,1790.0 L576.0,1788.5 L579.0,1786.9 L582.0,1785.3 L585.0,1783.8 L588.0,1782.1 L591.0,1780.5 L594.0,1778.9 L597.0,1777.2 L600.0,1775.5 L603.0,1773.8 L606.0,1772.0 L609.0,1770.2 L612.0,1768.4 L615.0,1766.5 L618.0,1764.6 L621.0,1762.7 L624.0,1760.7 L627.0,1758.6 L630.0,1756.5 L633.0,1754.2 L636.0,1751.9 L639.0,1749.5 L642.0,1747.1 L645.0,1744.6 L648.0,1742.1 L651.0,1739.5 L654.0,1736.9 L657.0,1734.4 L660.0,1731.8 L663.0,1729.2 L666.0,1726.6 L669.0,1724.1 L672.0,1721.4 L675.0,1718.7 L678.0,1716.0 L681.0,1713.3 L684.0,1710.5 L687.0,1707.8 L690.0,1705.0 L693.0,1702.3 L696.0,1699.6 L699.0,1696.9 L702.0,1694.2 L705.0,1691.7 L708.0,1689.1 L711.0,1686.7 L714.0,1684.2 L717.0,1681.8 L720.0,1679.4 L723.0,1676.9 L726.0,1674.6 L729.0,1672.2 L732.0,1669.9 L735.0,1667.6 L738.0,1665.4 L741.0,1663.3 L744.0,1661.3 L747.0,1659.3 L750.0,1657.5 L753.0,1655.7 L756.0,1653.9 L759.0,1652.1 L762.0,1650.3 L765.0,1648.6 L768.0,1647.0 L771.0,1645.5 L774.0,1644.0 L777.0,1642.7 L780.0,1641.6 L783.0,1640.6 L786.0,1639.7 L789.0,1639.0 L792.0,1638.2 L795.0,1637.4 L798.0,1636.7 L801.0,1636.1 L804.0,1635.4 L807.0,1634.9 L810.0,1634.4 L813.0,1634.0 L816.0,1633.7 L819.0,1633.6 L822.0,1633.5 L825.0,1633.6 L828.0,1633.8 L831.0,1634.1 L834.0,1634.5 L837.0,1635.1 L840.0,1635.7 L843.0,1636.4 L846.0,1637.1 L849.0,1637.9 L852.0,1638.7 L855.0,1639.5 L858.0,1640.3 L861.0,1641.2 L864.0,1642.3 L867.0,1643.6 L870.0,1644.9 L873.0,1646.4 L876.0,1647.9 L879.0,1649.4 L882.0,1651.0 L885.0,1652.5 L888.0,1654.0 L891.0,1655.6 L894.0,1657.2 L897.0,1658.8 L900.0,1660.6 L903.0,1662.3 L906.0,1664.0 L909.0,1665.8 L912.0,1667.5 L915.0,1669.2 L918.0,1670.9 L921.0,1672.5 L924.0,1674.0 L927.0,1675.5 L930.0,1677.0 L933.0,1678.4 L936.0,1679.8 L939.0,1681.3 L942.0,1682.7 L945.0,1684.1 L948.0,1685.5 L951.0,1687.0 L954.0,1688.5 L957.0,1690.0 L960.0,1691.4 L963.0,1692.9 L966.0,1694.4 L969.0,1695.9 L972.0,1697.4 L975.0,1699.0 L978.0,1700.7 L981.0,1702.4 L984.0,1704.2 L987.0,1706.0 L990.0,1707.8 L993.0,1709.7 L996.0,1711.6 L999.0,1713.6 L1002.0,1715.7 L1005.0,1718.0 L1008.0,1720.5 L1011.0,1723.1 L1014.0,1726.0 L1017.0,1729.4 L1020.0,1733.3 L1023.0,1737.4 L1026.0,1741.6 L1029.0,1745.9 L1032.0,1750.0 L1035.0,1754.2 L1038.0,1758.5 L1041.0,1763.0 L1044.0,1767.3 L1047.0,1771.4 L1050.0,1775.2 L1053.0,1778.6 L1056.0,1781.6 L1059.0,1784.6 L1062.0,1787.3 L1065.0,1789.9 L1068.0,1792.2 L1071.0,1794.3 L1074.0,1796.3 L1077.0,1798.1 L1080.0,1799.8 L1083.0,1801.3 L1086.0,1802.8 L1089.0,1804.2 L1092.0,1805.5 L1095.0,1806.7 L1098.0,1807.9 L1101.0,1808.9 L1104.0,1810.0 L1107.0,1811.0 L1110.0,1811.9 L1113.0,1812.9 L1116.0,1813.7 L1119.0,1814.5 L1122.0,1815.3 L1125.0,1816.0 L1128.0,1816.7 L1131.0,1817.3 L1134.0,1817.9 L1137.0,1818.4 L1140.0,1818.9 L1143.0,1819.4 L1146.0,1819.9 L1149.0,1820.4 L1152.0,1820.8 L1155.0,1821.2 L1158.0,1821.6 L1161.0,1822.0 L1164.0,1822.3 L1167.0,1822.6 L1170.0,1822.8 L1173.0,1823.1 L1176.0,1823.3 L1179.0,1823.5 L1182.0,1823.7 L1185.0,1823.9 L1188.0,1824.0 L1191.0,1824.2 L1194.0,1824.4 L1197.0,1824.5 L1200.0,1824.7 L1203.0,1824.8 L1206.0,1824.9 L1209.0,1825.1 L1212.0,1825.2 L1215.0,1825.3 L1218.0,1825.4 L1221.0,1825.6 L1224.0,1825.7 L1227.0,1825.8 L1230.0,1825.9 L1233.0,1826.0 L1236.0,1826.1 L1239.0,1826.2 L1242.0,1826.3 L1245.0,1826.4 L1248.0,1826.5 L1251.0,1826.6 L1254.0,1826.7 L1257.0,1826.9 L1260.0,1827.0 L1263.0,1827.1 L1266.0,1827.2 L1269.0,1827.3 L1272.0,1827.4 L1275.0,1827.4 L1278.0,1827.5 L1281.0,1827.6 L1284.0,1827.7 L1287.0,1827.8 L1290.0,1827.9 L1293.0,1828.0 L1296.0,1828.1 L1299.0,1828.2 L1302.0,1828.3 L1305.0,1828.4 L1308.0,1828.4 L1311.0,1828.5 L1314.0,1828.6 L1317.0,1828.7 L1320.0,1828.8 L1323.0,1828.8 L1326.0,1828.9 L1329.0,1829.0 L1332.0,1829.1 L1335.0,1829.2 L1338.0,1829.2 L1341.0,1829.3 L1344.0,1829.4 L1347.0,1829.4 L1350.0,1829.5 L1353.0,1829.6 L1356.0,1829.7 L1359.0,1829.7 L1362.0,1829.8 L1365.0,1829.9 L1368.0,1829.9 L1371.0,1830.0 L1374.0,1830.0 L1377.0,1830.1 L1380.0,1830.2 L1383.0,1830.2 L1386.0,1830.3 L1389.0,1830.4 L1392.0,1830.4 L1395.0,1830.5 L1398.0,1830.5 L1401.0,1830.6 L1404.0,1830.7 L1407.0,1830.7 L1410.0,1830.8 L1413.0,1830.8 L1416.0,1830.9 L1419.0,1831.0 L1422.0,1831.0 L1425.0,1831.1 L1428.0,1831.1 L1431.0,1831.2 L1434.0,1831.2 L1437.0,1831.3 L1440.0,1831.4 L1443.0,1831.4 L1446.0,1831.5 L1449.0,1831.5 L1452.0,1831.6 L1455.0,1831.6 L1458.0,1831.7 L1461.0,1831.7 L1464.0,1831.8 L1467.0,1831.8 L1470.0,1831.9 L1473.0,1831.9 L1476.0,1832.0 L1479.0,1832.1 L1482.0,1832.1 L1485.0,1832.2 L1488.0,1832.2 L1491.0,1832.2 L1494.0,1832.3 L1497.0,1832.3 L1500.0,1832.4 L1503.0,1832.4 L1506.0,1832.5 L1509.0,1832.5 L1512.0,1832.6 L1515.0,1832.6 L1518.0,1832.7 L1521.0,1832.7 L1524.0,1832.7 L1527.0,1832.8 L1530.0,1832.8 L1533.0,1832.9 L1536.0,1832.9 L1539.0,1832.9 L1542.0,1833.0 L1545.0,1833.0 L1548.0,1833.1 L1551.0,1833.1 L1554.0,1833.1 L1557.0,1833.2 L1560.0,1833.2 L1563.0,1833.2 L1566.0,1833.3 L1569.0,1833.3 L1572.0,1833.3 L1575.0,1833.4 L1578.0,1833.4 L1581.0,1833.4 L1584.0,1833.4 L1587.0,1833.5 L1590.0,1833.5 L1591.0,1833.5"/>
<path stroke="#808000" stroke-width="5.5" d="M145.5,265.3 L138.2,260.6 L137.2,258.6"/>
</g>
<line x1="421.5" y1="33" x2="421.5" y2="1901" stroke="#000" stroke-width="3" stroke-dasharray="11 6" shape-rendering="crispEdges"/>
<g class="bw">
<text class="ax" transform="translate(859.8,2091.0) scale(0.985,1)">Temperature (<tspan dx="0.4" dy="2.0" font-size="69.1">º</tspan><tspan dy="-2.0" dx="-0.8">C</tspan>)</text>
<text class="ay" transform="translate(62,982) rotate(-90)">H<tspan dy="26" font-size="41">2</tspan><tspan dy="-26"> consumption (a.u.)</tspan></text>
<text class="pk" transform="translate(437.0,98.5) scale(0.954,1)">288 <tspan dx="0.3" dy="1.6" font-size="57.6">º</tspan><tspan dy="-1.6" dx="-0.7">C</tspan></text>
<text class="pk" transform="translate(606.5,80.0) scale(0.954,1)">344 <tspan dx="0.3" dy="1.6" font-size="57.6">º</tspan><tspan dy="-1.6" dx="-0.7">C</tspan></text>
<text class="pk" transform="translate(831.0,94.0) scale(0.954,1)">447 <tspan dx="0.3" dy="1.6" font-size="57.6">º</tspan><tspan dy="-1.6" dx="-0.7">C</tspan></text>
<text class="pk" transform="translate(649.0,316.5) scale(0.954,1)">405 <tspan dx="0.3" dy="1.6" font-size="57.6">º</tspan><tspan dy="-1.6" dx="-0.7">C</tspan></text>
<text class="pk" transform="translate(885.0,311.5) scale(0.954,1)">489 <tspan dx="0.3" dy="1.6" font-size="57.6">º</tspan><tspan dy="-1.6" dx="-0.7">C</tspan></text>
<text class="pk" transform="translate(233.0,410.0) scale(0.954,1)">1<tspan dx="-4">88</tspan> <tspan dx="0.3" dy="1.6" font-size="57.6">º</tspan><tspan dy="-1.6" dx="-0.7">C</tspan></text>
<text class="pk" transform="translate(787.0,422.5) scale(0.954,1)">452 <tspan dx="0.3" dy="1.6" font-size="57.6">º</tspan><tspan dy="-1.6" dx="-0.7">C</tspan></text>
<text class="pk" transform="translate(239.5,510.0) scale(0.954,1)">1<tspan dx="-4">87</tspan> <tspan dx="0.3" dy="1.6" font-size="57.6">º</tspan><tspan dy="-1.6" dx="-0.7">C</tspan></text>
<text class="pk" transform="translate(728.0,566.5) scale(0.954,1)">428 <tspan dx="0.3" dy="1.6" font-size="57.6">º</tspan><tspan dy="-1.6" dx="-0.7">C</tspan></text>
<text class="pk" transform="translate(919.5,596.0) scale(0.954,1)">494 <tspan dx="0.3" dy="1.6" font-size="57.6">º</tspan><tspan dy="-1.6" dx="-0.7">C</tspan></text>
<text class="pk" transform="translate(700.0,712.5) scale(0.954,1)">425 <tspan dx="0.3" dy="1.6" font-size="57.6">º</tspan><tspan dy="-1.6" dx="-0.7">C</tspan></text>
<text class="pk" transform="translate(931.0,729.0) scale(0.954,1)">490 <tspan dx="0.3" dy="1.6" font-size="57.6">º</tspan><tspan dy="-1.6" dx="-0.7">C</tspan></text>
<text class="pk" transform="translate(254.0,803.5) scale(0.954,1)">1<tspan dx="-4">93</tspan> <tspan dx="0.3" dy="1.6" font-size="57.6">º</tspan><tspan dy="-1.6" dx="-0.7">C</tspan></text>
<text class="pk" transform="translate(826.0,832.5) scale(0.954,1)">459 <tspan dx="0.3" dy="1.6" font-size="57.6">º</tspan><tspan dy="-1.6" dx="-0.7">C</tspan></text>
<text class="pk" transform="translate(287.5,897.5) scale(0.954,1)">205 <tspan dx="0.3" dy="1.6" font-size="57.6">º</tspan><tspan dy="-1.6" dx="-0.7">C</tspan></text>
<text class="pk" transform="translate(730.0,992.5) scale(0.954,1)">440 <tspan dx="0.3" dy="1.6" font-size="57.6">º</tspan><tspan dy="-1.6" dx="-0.7">C</tspan></text>
<text class="pk" transform="translate(942.0,1014.0) scale(0.954,1)">516 <tspan dx="0.3" dy="1.6" font-size="57.6">º</tspan><tspan dy="-1.6" dx="-0.7">C</tspan></text>
<text class="pk" transform="translate(260.0,1021.0) scale(0.954,1)">1<tspan dx="-4">95</tspan> <tspan dx="0.3" dy="1.6" font-size="57.6">º</tspan><tspan dy="-1.6" dx="-0.7">C</tspan></text>
<text class="pk" transform="translate(867.5,1120.0) scale(0.954,1)">485 <tspan dx="0.3" dy="1.6" font-size="57.6">º</tspan><tspan dy="-1.6" dx="-0.7">C</tspan></text>
<text class="pk" transform="translate(662.5,1166.5) scale(0.954,1)">420 <tspan dx="0.3" dy="1.6" font-size="57.6">º</tspan><tspan dy="-1.6" dx="-0.7">C</tspan></text>
<text class="pk" transform="translate(269.5,1265.0) scale(0.954,1)">1<tspan dx="-4">95</tspan> <tspan dx="0.3" dy="1.6" font-size="57.6">º</tspan><tspan dy="-1.6" dx="-0.7">C</tspan></text>
<text class="pk" transform="translate(874.5,1320.0) scale(0.954,1)">490 <tspan dx="0.3" dy="1.6" font-size="57.6">º</tspan><tspan dy="-1.6" dx="-0.7">C</tspan></text>
<text class="pk" transform="translate(280.5,1448.5) scale(0.954,1)">207 <tspan dx="0.3" dy="1.6" font-size="57.6">º</tspan><tspan dy="-1.6" dx="-0.7">C</tspan></text>
<text class="pk" transform="translate(1101.0,1450.0) scale(0.954,1)">594 <tspan dx="0.3" dy="1.6" font-size="57.6">º</tspan><tspan dy="-1.6" dx="-0.7">C</tspan></text>
<text class="pk" transform="translate(729.0,1612.5) scale(0.954,1)">430 <tspan dx="0.3" dy="1.6" font-size="57.6">º</tspan><tspan dy="-1.6" dx="-0.7">C</tspan></text>
<text class="pk" transform="translate(235.5,1669.0) scale(0.954,1)">1<tspan dx="-4">86</tspan> <tspan dx="0.3" dy="1.6" font-size="57.6">º</tspan><tspan dy="-1.6" dx="-0.7">C</tspan></text>
<text class="pk" transform="translate(1005.0,1709.0) scale(0.954,1)">522 <tspan dx="0.3" dy="1.6" font-size="57.6">º</tspan><tspan dy="-1.6" dx="-0.7">C</tspan></text>
<text class="sm" transform="translate(1565.5,318.5) scale(0.954,1)">Ni/SBA15</text>
<text class="sm" transform="translate(1567.5,507.5) scale(0.954,1)"><tspan letter-spacing="-0.4">(7.5-7)</tspan>NiCr/SBA15</text>
<text class="sm" transform="translate(1568.5,635.0) scale(0.954,1)"><tspan letter-spacing="-0.4">(3.75-7)</tspan>NiCr/SBA15</text>
<text class="sm" transform="translate(1568.5,766.5) scale(0.954,1)"><tspan letter-spacing="-0.4">(2.5-7)</tspan>NiCr/SBA15</text>
<text class="sm" transform="translate(1568.5,905.0) scale(0.954,1)"><tspan letter-spacing="-0.4">(7.5-11)</tspan>NiCr/SBA15</text>
<text class="sm" transform="translate(1544.5,1059.0) scale(0.954,1)"><tspan letter-spacing="-0.4">(3.75-11)</tspan>NiCr/SBA15</text>
<text class="sm" transform="translate(1568.5,1182.5) scale(0.954,1)"><tspan letter-spacing="-0.4">(2.5-11)</tspan>NiCr/SBA15</text>
<text class="sm" transform="translate(1568.5,1372.5) scale(0.954,1)"><tspan letter-spacing="-0.4">(7.5-15)</tspan>NiCr/SBA15</text>
<text class="sm" transform="translate(1567.5,1646.5) scale(0.954,1)"><tspan letter-spacing="-0.4">(3.75-15)</tspan>NiCr/SBA15</text>
<text class="sm" transform="translate(1568.5,1882.5) scale(0.954,1)"><tspan letter-spacing="-0.4">(2.5-15)</tspan>NiCr/SBA15</text>
</g>
</svg>
</body></html>
